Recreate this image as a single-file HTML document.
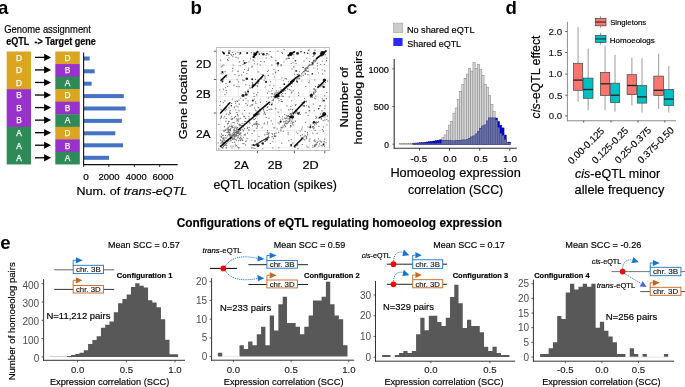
<!DOCTYPE html>
<html><head><meta charset="utf-8"><style>
html,body{margin:0;padding:0;background:#fff;overflow:hidden;width:685px;height:387px;}
svg{display:block;will-change:transform;font-family:"Liberation Sans",sans-serif;}
</style></head><body>
<svg width="685" height="387" viewBox="0 0 685 387">
<rect width="685" height="387" fill="#fff"/>
<text x="-1.9" y="13.7" font-size="18.6" font-weight="bold" fill="#000">a</text>
<text x="190.5" y="13.7" font-size="18.6" font-weight="bold" fill="#000">b</text>
<text x="346.9" y="13.7" font-size="18.6" font-weight="bold" fill="#000">c</text>
<text x="505.5" y="13.7" font-size="18.6" font-weight="bold" fill="#000">d</text>
<text x="0.3" y="248.9" font-size="18.6" font-weight="bold" fill="#000">e</text>
<text x="4.26" y="33.10" font-size="10.2" fill="#000" textLength="86.71" lengthAdjust="spacingAndGlyphs" stroke="#000" stroke-width="0.18">Genome assignment</text>
<text x="6.22" y="45.20" font-size="10" fill="#000" textLength="89.61" lengthAdjust="spacingAndGlyphs" stroke="#000" stroke-width="0.18"><tspan font-weight="bold">eQTL  -&gt; Target gene</tspan></text>
<rect x="6.70" y="51.50" width="24.30" height="38.05" fill="#DAA520"/>
<rect x="6.70" y="89.15" width="24.30" height="38.05" fill="#9932CC"/>
<rect x="6.70" y="126.80" width="24.30" height="37.65" fill="#2E8B57"/>
<rect x="55.30" y="51.50" width="24.50" height="12.95" fill="#DAA520"/>
<rect x="55.30" y="64.05" width="24.50" height="12.95" fill="#9932CC"/>
<rect x="55.30" y="76.60" width="24.50" height="12.95" fill="#2E8B57"/>
<rect x="55.30" y="89.15" width="24.50" height="12.95" fill="#DAA520"/>
<rect x="55.30" y="101.70" width="24.50" height="12.95" fill="#9932CC"/>
<rect x="55.30" y="114.25" width="24.50" height="12.95" fill="#2E8B57"/>
<rect x="55.30" y="126.80" width="24.50" height="12.95" fill="#DAA520"/>
<rect x="55.30" y="139.35" width="24.50" height="12.95" fill="#9932CC"/>
<rect x="55.30" y="151.90" width="24.50" height="12.55" fill="#2E8B57"/>
<text x="18.9" y="60.675" font-size="8.3" text-anchor="middle" fill="#fff" stroke="#fff" stroke-width="0.25">D</text>
<text x="67.6" y="60.675" font-size="8.3" text-anchor="middle" fill="#fff" stroke="#fff" stroke-width="0.25">D</text>
<line x1="35" y1="57.375" x2="45" y2="57.375" stroke="#000" stroke-width="1.3"/>
<polygon points="44.1,53.77 51.1,57.38 44.1,60.98" fill="#000"/>
<text x="18.9" y="73.22500000000001" font-size="8.3" text-anchor="middle" fill="#fff" stroke="#fff" stroke-width="0.25">D</text>
<text x="67.6" y="73.22500000000001" font-size="8.3" text-anchor="middle" fill="#fff" stroke="#fff" stroke-width="0.25">B</text>
<line x1="35" y1="69.925" x2="45" y2="69.925" stroke="#000" stroke-width="1.3"/>
<polygon points="44.1,66.33 51.1,69.92 44.1,73.52" fill="#000"/>
<text x="18.9" y="85.775" font-size="8.3" text-anchor="middle" fill="#fff" stroke="#fff" stroke-width="0.25">D</text>
<text x="67.6" y="85.775" font-size="8.3" text-anchor="middle" fill="#fff" stroke="#fff" stroke-width="0.25">A</text>
<line x1="35" y1="82.475" x2="45" y2="82.475" stroke="#000" stroke-width="1.3"/>
<polygon points="44.1,78.88 51.1,82.47 44.1,86.07" fill="#000"/>
<text x="18.9" y="98.32500000000002" font-size="8.3" text-anchor="middle" fill="#fff" stroke="#fff" stroke-width="0.25">B</text>
<text x="67.6" y="98.32500000000002" font-size="8.3" text-anchor="middle" fill="#fff" stroke="#fff" stroke-width="0.25">D</text>
<line x1="35" y1="95.025" x2="45" y2="95.025" stroke="#000" stroke-width="1.3"/>
<polygon points="44.1,91.43 51.1,95.03 44.1,98.62" fill="#000"/>
<text x="18.9" y="110.87500000000001" font-size="8.3" text-anchor="middle" fill="#fff" stroke="#fff" stroke-width="0.25">B</text>
<text x="67.6" y="110.87500000000001" font-size="8.3" text-anchor="middle" fill="#fff" stroke="#fff" stroke-width="0.25">B</text>
<line x1="35" y1="107.575" x2="45" y2="107.575" stroke="#000" stroke-width="1.3"/>
<polygon points="44.1,103.98 51.1,107.58 44.1,111.17" fill="#000"/>
<text x="18.9" y="123.42500000000001" font-size="8.3" text-anchor="middle" fill="#fff" stroke="#fff" stroke-width="0.25">B</text>
<text x="67.6" y="123.42500000000001" font-size="8.3" text-anchor="middle" fill="#fff" stroke="#fff" stroke-width="0.25">A</text>
<line x1="35" y1="120.125" x2="45" y2="120.125" stroke="#000" stroke-width="1.3"/>
<polygon points="44.1,116.53 51.1,120.12 44.1,123.72" fill="#000"/>
<text x="18.9" y="135.97500000000002" font-size="8.3" text-anchor="middle" fill="#fff" stroke="#fff" stroke-width="0.25">A</text>
<text x="67.6" y="135.97500000000002" font-size="8.3" text-anchor="middle" fill="#fff" stroke="#fff" stroke-width="0.25">D</text>
<line x1="35" y1="132.675" x2="45" y2="132.675" stroke="#000" stroke-width="1.3"/>
<polygon points="44.1,129.08 51.1,132.68 44.1,136.28" fill="#000"/>
<text x="18.9" y="148.52500000000003" font-size="8.3" text-anchor="middle" fill="#fff" stroke="#fff" stroke-width="0.25">A</text>
<text x="67.6" y="148.52500000000003" font-size="8.3" text-anchor="middle" fill="#fff" stroke="#fff" stroke-width="0.25">B</text>
<line x1="35" y1="145.22500000000002" x2="45" y2="145.22500000000002" stroke="#000" stroke-width="1.3"/>
<polygon points="44.1,141.63 51.1,145.23 44.1,148.83" fill="#000"/>
<text x="18.9" y="161.07500000000002" font-size="8.3" text-anchor="middle" fill="#fff" stroke="#fff" stroke-width="0.25">A</text>
<text x="67.6" y="161.07500000000002" font-size="8.3" text-anchor="middle" fill="#fff" stroke="#fff" stroke-width="0.25">A</text>
<line x1="35" y1="157.775" x2="45" y2="157.775" stroke="#000" stroke-width="1.3"/>
<polygon points="44.1,154.18 51.1,157.78 44.1,161.38" fill="#000"/>
<rect x="84.00" y="56.50" width="5.70" height="4.00" fill="#4472C4"/>
<rect x="84.00" y="69.30" width="10.70" height="4.00" fill="#4472C4"/>
<rect x="84.00" y="81.70" width="7.60" height="4.00" fill="#4472C4"/>
<rect x="84.00" y="94.10" width="39.80" height="4.00" fill="#4472C4"/>
<rect x="84.00" y="106.50" width="41.70" height="4.00" fill="#4472C4"/>
<rect x="84.00" y="118.90" width="37.90" height="4.00" fill="#4472C4"/>
<rect x="84.00" y="131.30" width="31.30" height="4.00" fill="#4472C4"/>
<rect x="84.00" y="143.30" width="39.00" height="4.00" fill="#4472C4"/>
<rect x="84.00" y="155.80" width="25.00" height="4.00" fill="#4472C4"/>
<line x1="83.6" y1="52.5" x2="83.6" y2="165" stroke="#111" stroke-width="1.1"/>
<line x1="83.1" y1="164.6" x2="177.7" y2="164.6" stroke="#111" stroke-width="1.1"/>
<line x1="83.7" y1="164.9" x2="83.7" y2="167" stroke="#000" stroke-width="0.8"/>
<line x1="108.9" y1="164.9" x2="108.9" y2="167" stroke="#000" stroke-width="0.8"/>
<line x1="134.3" y1="164.9" x2="134.3" y2="167" stroke="#000" stroke-width="0.8"/>
<line x1="159.7" y1="164.9" x2="159.7" y2="167" stroke="#000" stroke-width="0.8"/>
<text x="83.29" y="179.70" font-size="8.2" fill="#000" textLength="5.56" lengthAdjust="spacingAndGlyphs" stroke="#000" stroke-width="0.18">0</text>
<text x="98.56" y="179.70" font-size="8.2" fill="#000" textLength="21.08" lengthAdjust="spacingAndGlyphs" stroke="#000" stroke-width="0.18">2000</text>
<text x="125.85" y="179.70" font-size="8.2" fill="#000" textLength="20.78" lengthAdjust="spacingAndGlyphs" stroke="#000" stroke-width="0.18">4000</text>
<text x="152.56" y="179.70" font-size="8.2" fill="#000" textLength="21.08" lengthAdjust="spacingAndGlyphs" stroke="#000" stroke-width="0.18">6000</text>
<text x="76.42" y="195.20" font-size="11.7" fill="#000" textLength="110.78" lengthAdjust="spacingAndGlyphs" stroke="#000" stroke-width="0.18">Num. of <tspan font-style="italic">trans-eQTL</tspan></text>
<rect x="216.50" y="47.50" width="113.00" height="103.00" fill="#fff" stroke="#BEBEBE" stroke-width="1"/>
<line x1="220.3" y1="47.6" x2="220.3" y2="150.2" stroke="#E6E6E6" stroke-width="0.7"/>
<line x1="238.3" y1="47.6" x2="238.3" y2="150.2" stroke="#E6E6E6" stroke-width="0.7"/>
<line x1="257.4" y1="47.6" x2="257.4" y2="150.2" stroke="#E6E6E6" stroke-width="0.7"/>
<line x1="275.6" y1="47.6" x2="275.6" y2="150.2" stroke="#E6E6E6" stroke-width="0.7"/>
<line x1="294.4" y1="47.6" x2="294.4" y2="150.2" stroke="#E6E6E6" stroke-width="0.7"/>
<line x1="309.6" y1="47.6" x2="309.6" y2="150.2" stroke="#E6E6E6" stroke-width="0.7"/>
<line x1="324.9" y1="47.6" x2="324.9" y2="150.2" stroke="#E6E6E6" stroke-width="0.7"/>
<line x1="216.6" y1="51.2" x2="329.2" y2="51.2" stroke="#E6E6E6" stroke-width="0.7"/>
<line x1="216.6" y1="65.3" x2="329.2" y2="65.3" stroke="#E6E6E6" stroke-width="0.7"/>
<line x1="216.6" y1="79.5" x2="329.2" y2="79.5" stroke="#E6E6E6" stroke-width="0.7"/>
<line x1="216.6" y1="96.5" x2="329.2" y2="96.5" stroke="#E6E6E6" stroke-width="0.7"/>
<line x1="216.6" y1="113" x2="329.2" y2="113" stroke="#E6E6E6" stroke-width="0.7"/>
<line x1="216.6" y1="130.5" x2="329.2" y2="130.5" stroke="#E6E6E6" stroke-width="0.7"/>
<line x1="216.6" y1="147.8" x2="329.2" y2="147.8" stroke="#E6E6E6" stroke-width="0.7"/>
<path d="M239.8 130.0h1.1v1.1h-1.1zM230.8 136.3h1.1v1.1h-1.1zM235.4 133.9h1.1v1.1h-1.1zM234.6 135.1h1.1v1.1h-1.1zM232.4 137.9h1.1v1.1h-1.1zM232.7 134.2h1.1v1.1h-1.1zM235.2 135.3h1.1v1.1h-1.1zM234.8 132.0h1.1v1.1h-1.1zM237.4 131.4h1.1v1.1h-1.1zM232.6 134.1h1.1v1.1h-1.1zM234.3 135.6h1.1v1.1h-1.1zM235.6 131.6h1.1v1.1h-1.1zM236.1 133.2h1.1v1.1h-1.1zM233.7 134.5h1.1v1.1h-1.1zM232.1 136.7h1.1v1.1h-1.1zM231.6 134.6h1.1v1.1h-1.1zM233.0 135.5h1.1v1.1h-1.1zM233.5 134.0h1.1v1.1h-1.1zM234.2 136.5h1.1v1.1h-1.1zM236.7 131.6h1.1v1.1h-1.1zM236.2 132.8h1.1v1.1h-1.1zM239.4 132.5h1.1v1.1h-1.1zM231.3 137.1h1.1v1.1h-1.1zM236.2 129.2h1.1v1.1h-1.1zM238.2 131.1h1.1v1.1h-1.1zM275.2 96.0h1.1v1.1h-1.1zM274.8 97.2h1.1v1.1h-1.1zM269.1 102.0h1.1v1.1h-1.1zM275.4 96.9h1.1v1.1h-1.1zM269.4 101.6h1.1v1.1h-1.1zM272.8 98.7h1.1v1.1h-1.1zM272.5 99.4h1.1v1.1h-1.1zM272.4 99.5h1.1v1.1h-1.1zM274.3 96.5h1.1v1.1h-1.1zM274.0 97.4h1.1v1.1h-1.1zM303.5 71.3h1.1v1.1h-1.1zM313.0 60.1h1.1v1.1h-1.1zM315.4 59.9h1.1v1.1h-1.1zM304.4 68.5h1.1v1.1h-1.1zM304.1 70.4h1.1v1.1h-1.1zM309.3 64.3h1.1v1.1h-1.1zM309.1 64.6h1.1v1.1h-1.1zM313.3 61.4h1.1v1.1h-1.1zM314.7 61.1h1.1v1.1h-1.1zM302.9 71.0h1.1v1.1h-1.1zM307.4 66.7h1.1v1.1h-1.1zM311.4 61.9h1.1v1.1h-1.1zM308.6 64.6h1.1v1.1h-1.1zM305.0 69.4h1.1v1.1h-1.1zM316.1 57.8h1.1v1.1h-1.1zM313.4 59.6h1.1v1.1h-1.1zM304.4 70.2h1.1v1.1h-1.1zM305.4 69.3h1.1v1.1h-1.1zM305.5 68.4h1.1v1.1h-1.1zM307.7 65.9h1.1v1.1h-1.1zM304.8 70.2h1.1v1.1h-1.1zM304.6 69.6h1.1v1.1h-1.1zM301.0 73.2h1.1v1.1h-1.1zM308.7 64.8h1.1v1.1h-1.1zM304.3 69.9h1.1v1.1h-1.1zM317.6 56.2h1.1v1.1h-1.1zM314.3 60.3h1.1v1.1h-1.1zM302.1 72.2h1.1v1.1h-1.1zM312.4 61.6h1.1v1.1h-1.1zM305.9 70.3h1.1v1.1h-1.1zM312.3 64.1h1.1v1.1h-1.1zM316.4 57.8h1.1v1.1h-1.1zM311.3 64.3h1.1v1.1h-1.1zM307.8 65.5h1.1v1.1h-1.1zM314.0 59.7h1.1v1.1h-1.1zM310.2 64.2h1.1v1.1h-1.1zM301.2 73.2h1.1v1.1h-1.1zM306.9 67.8h1.1v1.1h-1.1zM309.6 64.5h1.1v1.1h-1.1zM305.4 67.5h1.1v1.1h-1.1zM316.1 58.6h1.1v1.1h-1.1zM318.0 56.3h1.1v1.1h-1.1zM306.5 66.8h1.1v1.1h-1.1zM299.2 75.1h1.1v1.1h-1.1zM313.1 60.6h1.1v1.1h-1.1zM310.5 96.3h1.1v1.1h-1.1zM310.6 94.7h1.1v1.1h-1.1zM310.0 96.6h1.1v1.1h-1.1zM313.0 92.3h1.1v1.1h-1.1zM313.6 89.0h1.1v1.1h-1.1zM311.0 93.5h1.1v1.1h-1.1zM314.6 92.0h1.1v1.1h-1.1zM313.1 92.4h1.1v1.1h-1.1zM315.1 90.2h1.1v1.1h-1.1zM305.9 101.2h1.1v1.1h-1.1zM317.5 86.5h1.1v1.1h-1.1zM313.4 92.7h1.1v1.1h-1.1zM313.5 93.6h1.1v1.1h-1.1zM311.0 94.3h1.1v1.1h-1.1zM304.9 101.0h1.1v1.1h-1.1zM312.7 93.6h1.1v1.1h-1.1zM313.8 90.4h1.1v1.1h-1.1zM305.8 100.8h1.1v1.1h-1.1zM307.1 133.7h1.1v1.1h-1.1zM312.2 126.1h1.1v1.1h-1.1zM320.7 118.6h1.1v1.1h-1.1zM312.8 126.0h1.1v1.1h-1.1zM315.8 123.5h1.1v1.1h-1.1zM307.0 134.4h1.1v1.1h-1.1zM304.9 135.4h1.1v1.1h-1.1zM304.6 134.8h1.1v1.1h-1.1zM318.1 117.6h1.1v1.1h-1.1zM304.6 131.1h1.1v1.1h-1.1zM314.1 124.3h1.1v1.1h-1.1zM315.1 122.6h1.1v1.1h-1.1zM316.9 121.9h1.1v1.1h-1.1zM303.5 136.3h1.1v1.1h-1.1zM321.0 118.1h1.1v1.1h-1.1zM314.4 122.0h1.1v1.1h-1.1zM315.8 121.3h1.1v1.1h-1.1zM315.4 122.8h1.1v1.1h-1.1zM312.3 127.0h1.1v1.1h-1.1zM317.9 121.0h1.1v1.1h-1.1zM312.6 123.1h1.1v1.1h-1.1zM306.9 132.1h1.1v1.1h-1.1zM306.0 136.1h1.1v1.1h-1.1zM318.4 117.4h1.1v1.1h-1.1zM311.8 126.5h1.1v1.1h-1.1zM309.9 125.8h1.1v1.1h-1.1zM268.1 135.5h1.1v1.1h-1.1zM268.0 133.3h1.1v1.1h-1.1zM268.4 137.0h1.1v1.1h-1.1zM267.3 133.5h1.1v1.1h-1.1zM268.3 133.1h1.1v1.1h-1.1zM266.9 130.1h1.1v1.1h-1.1zM267.7 136.7h1.1v1.1h-1.1zM267.5 133.7h1.1v1.1h-1.1zM286.0 123.5h1.1v1.1h-1.1zM287.8 121.3h1.1v1.1h-1.1zM285.2 121.5h1.1v1.1h-1.1zM274.8 136.0h1.1v1.1h-1.1zM285.4 120.6h1.1v1.1h-1.1zM280.4 130.2h1.1v1.1h-1.1zM282.4 125.3h1.1v1.1h-1.1zM284.5 123.0h1.1v1.1h-1.1zM278.1 131.8h1.1v1.1h-1.1zM274.6 135.7h1.1v1.1h-1.1zM287.5 122.2h1.1v1.1h-1.1zM285.9 117.6h1.1v1.1h-1.1zM289.5 113.6h1.1v1.1h-1.1zM275.5 135.4h1.1v1.1h-1.1zM284.3 124.8h1.1v1.1h-1.1zM283.1 121.3h1.1v1.1h-1.1zM280.6 126.8h1.1v1.1h-1.1zM280.4 128.6h1.1v1.1h-1.1zM272.9 138.1h1.1v1.1h-1.1zM273.7 135.8h1.1v1.1h-1.1zM290.9 114.3h1.1v1.1h-1.1zM289.0 118.1h1.1v1.1h-1.1zM285.0 126.1h1.1v1.1h-1.1zM281.7 127.1h1.1v1.1h-1.1zM273.8 134.3h1.1v1.1h-1.1zM280.3 130.4h1.1v1.1h-1.1zM288.9 121.0h1.1v1.1h-1.1zM275.7 132.5h1.1v1.1h-1.1zM258.4 123.9h1.1v1.1h-1.1zM257.7 123.4h1.1v1.1h-1.1zM255.6 124.2h1.1v1.1h-1.1zM254.1 123.6h1.1v1.1h-1.1zM253.2 123.8h1.1v1.1h-1.1zM256.2 123.9h1.1v1.1h-1.1zM255.0 123.2h1.1v1.1h-1.1zM256.5 122.9h1.1v1.1h-1.1zM251.8 81.9h1.1v1.1h-1.1zM247.5 89.4h1.1v1.1h-1.1zM249.1 85.2h1.1v1.1h-1.1zM252.0 83.4h1.1v1.1h-1.1zM245.2 91.9h1.1v1.1h-1.1zM249.0 87.4h1.1v1.1h-1.1zM236.9 100.8h1.1v1.1h-1.1zM244.6 91.3h1.1v1.1h-1.1zM252.0 83.3h1.1v1.1h-1.1zM254.9 78.8h1.1v1.1h-1.1zM249.9 87.4h1.1v1.1h-1.1zM225.9 106.4h1.1v1.1h-1.1zM238.4 99.5h1.1v1.1h-1.1zM234.8 101.0h1.1v1.1h-1.1zM240.0 97.7h1.1v1.1h-1.1zM238.4 99.5h1.1v1.1h-1.1zM236.2 100.4h1.1v1.1h-1.1zM231.1 103.0h1.1v1.1h-1.1zM293.0 116.3h1.1v1.1h-1.1zM265.6 138.4h1.1v1.1h-1.1zM271.4 133.0h1.1v1.1h-1.1zM272.1 133.6h1.1v1.1h-1.1zM283.5 126.5h1.1v1.1h-1.1zM267.9 135.9h1.1v1.1h-1.1zM261.5 142.9h1.1v1.1h-1.1zM267.4 137.9h1.1v1.1h-1.1zM287.3 117.5h1.1v1.1h-1.1zM276.6 128.5h1.1v1.1h-1.1zM226.4 74.3h1.1v1.1h-1.1zM239.1 61.3h1.1v1.1h-1.1zM224.0 76.2h1.1v1.1h-1.1zM246.0 62.1h1.1v1.1h-1.1zM253.5 51.9h1.1v1.1h-1.1zM290.8 53.2h1.1v1.1h-1.1zM280.6 65.3h1.1v1.1h-1.1zM289.1 54.0h1.1v1.1h-1.1zM292.7 51.2h1.1v1.1h-1.1zM287.9 57.8h1.1v1.1h-1.1zM232.1 139.0h1.1v1.1h-1.1zM223.2 142.1h1.1v1.1h-1.1zM230.1 138.8h1.1v1.1h-1.1zM226.1 142.9h1.1v1.1h-1.1zM222.9 146.2h1.1v1.1h-1.1zM221.0 147.0h1.1v1.1h-1.1zM222.4 143.3h1.1v1.1h-1.1zM221.2 145.5h1.1v1.1h-1.1zM253.7 118.9h1.1v1.1h-1.1zM255.7 115.7h1.1v1.1h-1.1zM246.1 122.9h1.1v1.1h-1.1zM243.0 126.2h1.1v1.1h-1.1zM256.8 114.6h1.1v1.1h-1.1zM252.7 118.4h1.1v1.1h-1.1zM248.6 122.0h1.1v1.1h-1.1zM242.8 124.7h1.1v1.1h-1.1zM247.6 120.0h1.1v1.1h-1.1zM242.7 125.0h1.1v1.1h-1.1zM252.3 117.3h1.1v1.1h-1.1zM238.4 128.9h1.1v1.1h-1.1zM256.9 114.2h1.1v1.1h-1.1zM254.3 115.6h1.1v1.1h-1.1zM263.2 108.4h1.1v1.1h-1.1zM253.0 114.6h1.1v1.1h-1.1zM266.9 103.3h1.1v1.1h-1.1zM258.2 113.6h1.1v1.1h-1.1zM265.3 105.7h1.1v1.1h-1.1zM262.9 109.3h1.1v1.1h-1.1zM258.4 112.4h1.1v1.1h-1.1zM257.0 113.3h1.1v1.1h-1.1zM268.9 103.8h1.1v1.1h-1.1zM257.6 112.9h1.1v1.1h-1.1zM267.2 106.2h1.1v1.1h-1.1zM259.3 109.1h1.1v1.1h-1.1zM287.0 88.3h1.1v1.1h-1.1zM283.0 88.7h1.1v1.1h-1.1zM283.5 90.0h1.1v1.1h-1.1zM276.8 97.7h1.1v1.1h-1.1zM276.9 94.7h1.1v1.1h-1.1zM280.6 91.7h1.1v1.1h-1.1zM285.0 89.7h1.1v1.1h-1.1zM283.7 89.6h1.1v1.1h-1.1zM289.6 84.5h1.1v1.1h-1.1zM288.3 83.7h1.1v1.1h-1.1zM277.2 94.7h1.1v1.1h-1.1zM280.9 94.2h1.1v1.1h-1.1zM277.8 94.6h1.1v1.1h-1.1zM288.0 85.0h1.1v1.1h-1.1zM300.6 75.6h1.1v1.1h-1.1zM297.5 76.3h1.1v1.1h-1.1zM293.1 80.3h1.1v1.1h-1.1zM295.3 77.1h1.1v1.1h-1.1zM297.2 77.8h1.1v1.1h-1.1zM292.0 83.2h1.1v1.1h-1.1zM321.0 52.7h1.1v1.1h-1.1zM321.0 55.7h1.1v1.1h-1.1zM315.3 59.2h1.1v1.1h-1.1zM321.7 55.1h1.1v1.1h-1.1zM323.6 52.0h1.1v1.1h-1.1zM321.8 51.7h1.1v1.1h-1.1zM323.0 53.9h1.1v1.1h-1.1zM221.9 110.5h1.1v1.1h-1.1zM224.6 110.1h1.1v1.1h-1.1zM224.3 107.5h1.1v1.1h-1.1zM223.4 108.8h1.1v1.1h-1.1zM222.5 109.8h1.1v1.1h-1.1zM226.2 109.2h1.1v1.1h-1.1zM224.2 107.5h1.1v1.1h-1.1zM227.7 102.8h1.1v1.1h-1.1zM222.6 78.5h1.1v1.1h-1.1zM224.1 77.1h1.1v1.1h-1.1zM222.4 79.3h1.1v1.1h-1.1zM221.9 79.3h1.1v1.1h-1.1zM223.1 53.4h1.1v1.1h-1.1zM255.4 85.1h1.1v1.1h-1.1zM260.9 78.2h1.1v1.1h-1.1zM258.4 81.0h1.1v1.1h-1.1zM257.9 82.6h1.1v1.1h-1.1zM261.6 77.1h1.1v1.1h-1.1zM254.7 83.9h1.1v1.1h-1.1zM264.6 77.6h1.1v1.1h-1.1zM257.4 80.9h1.1v1.1h-1.1zM257.5 81.1h1.1v1.1h-1.1zM302.6 105.1h1.1v1.1h-1.1zM295.2 112.6h1.1v1.1h-1.1zM292.8 113.2h1.1v1.1h-1.1zM292.6 113.5h1.1v1.1h-1.1zM294.9 110.6h1.1v1.1h-1.1zM296.6 111.6h1.1v1.1h-1.1zM295.1 109.5h1.1v1.1h-1.1zM295.2 110.4h1.1v1.1h-1.1zM296.0 110.4h1.1v1.1h-1.1zM321.5 85.6h1.1v1.1h-1.1zM321.3 85.0h1.1v1.1h-1.1zM323.2 83.4h1.1v1.1h-1.1zM321.7 83.7h1.1v1.1h-1.1zM319.7 86.2h1.1v1.1h-1.1zM325.0 82.0h1.1v1.1h-1.1zM296.4 145.2h1.1v1.1h-1.1zM294.6 146.9h1.1v1.1h-1.1zM300.9 137.3h1.1v1.1h-1.1zM296.7 144.6h1.1v1.1h-1.1zM297.2 144.6h1.1v1.1h-1.1zM303.4 139.0h1.1v1.1h-1.1zM296.4 144.1h1.1v1.1h-1.1zM261.1 140.2h1.1v1.1h-1.1zM256.6 144.3h1.1v1.1h-1.1zM267.8 135.9h1.1v1.1h-1.1zM265.0 139.6h1.1v1.1h-1.1zM259.8 141.2h1.1v1.1h-1.1zM265.4 139.9h1.1v1.1h-1.1zM257.5 145.9h1.1v1.1h-1.1zM257.0 144.9h1.1v1.1h-1.1zM264.9 140.8h1.1v1.1h-1.1zM321.8 115.5h1.1v1.1h-1.1zM322.6 116.2h1.1v1.1h-1.1zM322.2 114.1h1.1v1.1h-1.1zM320.9 115.8h1.1v1.1h-1.1zM252.6 59.4h1.1v1.1h-1.1zM258.0 51.7h1.1v1.1h-1.1zM254.6 54.7h1.1v1.1h-1.1zM253.7 56.6h1.1v1.1h-1.1zM293.2 54.2h1.1v1.1h-1.1zM288.4 56.3h1.1v1.1h-1.1zM288.3 55.1h1.1v1.1h-1.1zM290.5 52.2h1.1v1.1h-1.1zM231.4 137.6h1.1v1.1h-1.1zM231.5 135.5h1.1v1.1h-1.1zM231.3 136.7h1.1v1.1h-1.1zM238.5 129.3h1.1v1.1h-1.1zM236.2 133.4h1.1v1.1h-1.1zM233.0 131.6h1.1v1.1h-1.1zM290.0 117.1h1.1v1.1h-1.1zM293.0 121.7h1.1v1.1h-1.1zM290.4 122.5h1.1v1.1h-1.1zM284.0 117.7h1.1v1.1h-1.1zM283.9 124.2h1.1v1.1h-1.1zM288.0 121.2h1.1v1.1h-1.1zM290.7 120.5h1.1v1.1h-1.1zM292.8 121.7h1.1v1.1h-1.1zM292.0 118.3h1.1v1.1h-1.1zM291.8 111.6h1.1v1.1h-1.1zM285.5 122.8h1.1v1.1h-1.1zM291.1 113.3h1.1v1.1h-1.1zM284.1 114.0h1.1v1.1h-1.1zM287.5 120.8h1.1v1.1h-1.1zM288.9 120.5h1.1v1.1h-1.1zM284.0 117.6h1.1v1.1h-1.1zM289.6 119.4h1.1v1.1h-1.1zM291.7 118.4h1.1v1.1h-1.1zM292.1 122.1h1.1v1.1h-1.1zM290.9 114.0h1.1v1.1h-1.1zM286.4 115.1h1.1v1.1h-1.1zM294.9 120.6h1.1v1.1h-1.1zM289.2 116.0h1.1v1.1h-1.1zM286.8 122.9h1.1v1.1h-1.1zM288.3 116.0h1.1v1.1h-1.1zM286.0 120.2h1.1v1.1h-1.1zM281.9 116.2h1.1v1.1h-1.1zM291.4 120.7h1.1v1.1h-1.1zM291.2 117.0h1.1v1.1h-1.1zM292.1 123.5h1.1v1.1h-1.1zM285.8 115.2h1.1v1.1h-1.1zM287.6 118.3h1.1v1.1h-1.1zM287.0 115.9h1.1v1.1h-1.1zM280.4 120.9h1.1v1.1h-1.1zM285.0 118.1h1.1v1.1h-1.1zM316.9 142.0h1.1v1.1h-1.1zM320.7 145.0h1.1v1.1h-1.1zM313.6 140.0h1.1v1.1h-1.1zM317.5 141.2h1.1v1.1h-1.1zM320.4 141.1h1.1v1.1h-1.1zM319.1 143.3h1.1v1.1h-1.1zM325.6 142.2h1.1v1.1h-1.1zM315.7 142.4h1.1v1.1h-1.1zM321.2 141.7h1.1v1.1h-1.1zM315.4 145.0h1.1v1.1h-1.1zM319.4 140.5h1.1v1.1h-1.1zM323.8 140.9h1.1v1.1h-1.1zM316.1 143.8h1.1v1.1h-1.1zM318.4 145.4h1.1v1.1h-1.1zM314.1 144.6h1.1v1.1h-1.1zM314.5 140.8h1.1v1.1h-1.1zM321.8 145.4h1.1v1.1h-1.1zM313.5 140.2h1.1v1.1h-1.1zM314.8 144.0h1.1v1.1h-1.1zM312.4 146.7h1.1v1.1h-1.1zM312.3 145.2h1.1v1.1h-1.1zM323.3 142.7h1.1v1.1h-1.1zM323.4 141.2h1.1v1.1h-1.1zM322.8 144.0h1.1v1.1h-1.1zM323.9 145.6h1.1v1.1h-1.1zM279.6 87.2h1.1v1.1h-1.1zM278.0 96.0h1.1v1.1h-1.1zM280.8 100.8h1.1v1.1h-1.1zM273.9 94.5h1.1v1.1h-1.1zM277.2 95.2h1.1v1.1h-1.1zM282.1 92.7h1.1v1.1h-1.1zM274.5 92.6h1.1v1.1h-1.1zM281.0 92.0h1.1v1.1h-1.1zM271.9 93.3h1.1v1.1h-1.1zM281.9 101.0h1.1v1.1h-1.1zM275.8 92.5h1.1v1.1h-1.1zM280.5 98.9h1.1v1.1h-1.1zM277.9 95.2h1.1v1.1h-1.1zM280.6 89.1h1.1v1.1h-1.1zM282.8 91.0h1.1v1.1h-1.1zM271.6 99.9h1.1v1.1h-1.1zM278.2 98.1h1.1v1.1h-1.1zM272.8 96.2h1.1v1.1h-1.1zM279.0 95.8h1.1v1.1h-1.1zM278.5 94.7h1.1v1.1h-1.1zM277.8 90.5h1.1v1.1h-1.1zM284.7 93.0h1.1v1.1h-1.1zM273.7 96.1h1.1v1.1h-1.1zM277.1 92.1h1.1v1.1h-1.1zM288.7 96.5h1.1v1.1h-1.1zM223.9 126.1h1.1v1.1h-1.1zM233.3 129.2h1.1v1.1h-1.1zM240.1 133.5h1.1v1.1h-1.1zM248.6 126.8h1.1v1.1h-1.1zM234.0 138.4h1.1v1.1h-1.1zM244.1 128.1h1.1v1.1h-1.1zM232.5 139.0h1.1v1.1h-1.1zM240.4 139.1h1.1v1.1h-1.1zM243.6 134.2h1.1v1.1h-1.1zM237.5 131.5h1.1v1.1h-1.1zM236.3 120.5h1.1v1.1h-1.1zM239.8 136.8h1.1v1.1h-1.1zM241.0 125.1h1.1v1.1h-1.1zM234.8 139.1h1.1v1.1h-1.1zM243.7 123.2h1.1v1.1h-1.1zM226.3 131.9h1.1v1.1h-1.1zM226.2 144.9h1.1v1.1h-1.1zM235.3 135.6h1.1v1.1h-1.1zM223.5 131.1h1.1v1.1h-1.1zM237.4 118.4h1.1v1.1h-1.1zM248.5 130.2h1.1v1.1h-1.1zM239.1 127.8h1.1v1.1h-1.1zM237.6 135.3h1.1v1.1h-1.1zM238.7 133.3h1.1v1.1h-1.1zM225.2 129.8h1.1v1.1h-1.1zM227.5 132.2h1.1v1.1h-1.1zM231.0 116.2h1.1v1.1h-1.1zM246.8 127.9h1.1v1.1h-1.1zM233.6 130.1h1.1v1.1h-1.1zM234.7 135.0h1.1v1.1h-1.1zM246.9 126.7h1.1v1.1h-1.1zM240.4 135.2h1.1v1.1h-1.1zM227.3 135.3h1.1v1.1h-1.1zM242.2 128.8h1.1v1.1h-1.1zM233.7 122.2h1.1v1.1h-1.1zM242.8 124.7h1.1v1.1h-1.1zM237.0 119.5h1.1v1.1h-1.1zM233.8 116.8h1.1v1.1h-1.1zM230.1 135.5h1.1v1.1h-1.1zM227.9 121.3h1.1v1.1h-1.1zM230.5 125.8h1.1v1.1h-1.1zM227.7 130.7h1.1v1.1h-1.1zM231.5 134.8h1.1v1.1h-1.1zM238.4 131.2h1.1v1.1h-1.1zM237.7 132.8h1.1v1.1h-1.1zM223.2 145.1h1.1v1.1h-1.1zM223.5 140.3h1.1v1.1h-1.1zM229.9 112.9h1.1v1.1h-1.1zM225.8 113.6h1.1v1.1h-1.1zM237.0 126.9h1.1v1.1h-1.1zM253.8 130.3h1.1v1.1h-1.1zM230.5 139.8h1.1v1.1h-1.1zM255.7 123.2h1.1v1.1h-1.1zM229.8 128.9h1.1v1.1h-1.1zM226.9 123.3h1.1v1.1h-1.1zM246.5 138.0h1.1v1.1h-1.1zM242.9 130.2h1.1v1.1h-1.1zM244.1 116.1h1.1v1.1h-1.1zM245.1 117.8h1.1v1.1h-1.1zM228.9 132.3h1.1v1.1h-1.1zM227.6 131.3h1.1v1.1h-1.1zM237.4 137.5h1.1v1.1h-1.1zM234.7 130.2h1.1v1.1h-1.1zM233.7 128.7h1.1v1.1h-1.1zM233.7 129.0h1.1v1.1h-1.1zM239.1 138.1h1.1v1.1h-1.1zM237.3 106.2h1.1v1.1h-1.1zM237.3 115.3h1.1v1.1h-1.1zM228.2 133.8h1.1v1.1h-1.1zM218.3 123.9h1.1v1.1h-1.1zM236.7 128.9h1.1v1.1h-1.1zM231.9 118.1h1.1v1.1h-1.1zM248.5 118.3h1.1v1.1h-1.1zM230.2 135.0h1.1v1.1h-1.1zM236.4 135.2h1.1v1.1h-1.1zM244.3 120.9h1.1v1.1h-1.1zM239.0 123.8h1.1v1.1h-1.1zM236.1 128.6h1.1v1.1h-1.1zM229.9 130.1h1.1v1.1h-1.1zM253.4 130.4h1.1v1.1h-1.1zM225.1 108.0h1.1v1.1h-1.1zM223.6 139.6h1.1v1.1h-1.1zM227.3 126.7h1.1v1.1h-1.1zM232.2 125.5h1.1v1.1h-1.1zM232.6 126.9h1.1v1.1h-1.1zM247.0 132.6h1.1v1.1h-1.1zM251.6 133.0h1.1v1.1h-1.1zM238.3 147.4h1.1v1.1h-1.1zM232.1 141.9h1.1v1.1h-1.1zM230.3 140.5h1.1v1.1h-1.1zM238.1 135.2h1.1v1.1h-1.1zM241.6 125.4h1.1v1.1h-1.1zM251.8 125.1h1.1v1.1h-1.1zM242.1 138.7h1.1v1.1h-1.1zM237.5 137.1h1.1v1.1h-1.1zM234.3 135.4h1.1v1.1h-1.1zM231.8 127.1h1.1v1.1h-1.1zM234.1 133.8h1.1v1.1h-1.1zM234.7 143.7h1.1v1.1h-1.1zM237.3 131.2h1.1v1.1h-1.1zM236.0 139.6h1.1v1.1h-1.1zM233.4 137.5h1.1v1.1h-1.1zM235.9 118.2h1.1v1.1h-1.1zM236.8 146.4h1.1v1.1h-1.1zM230.2 138.0h1.1v1.1h-1.1zM228.5 140.4h1.1v1.1h-1.1zM228.8 125.6h1.1v1.1h-1.1zM237.3 132.8h1.1v1.1h-1.1zM235.1 145.5h1.1v1.1h-1.1zM242.4 126.3h1.1v1.1h-1.1zM240.2 132.3h1.1v1.1h-1.1zM239.4 128.3h1.1v1.1h-1.1zM233.7 131.6h1.1v1.1h-1.1zM229.6 130.2h1.1v1.1h-1.1zM255.9 127.7h1.1v1.1h-1.1zM222.7 129.7h1.1v1.1h-1.1zM232.4 122.1h1.1v1.1h-1.1zM236.2 127.9h1.1v1.1h-1.1zM242.4 143.0h1.1v1.1h-1.1zM225.4 128.7h1.1v1.1h-1.1zM225.4 120.6h1.1v1.1h-1.1zM236.0 135.0h1.1v1.1h-1.1zM232.6 145.6h1.1v1.1h-1.1zM224.1 129.7h1.1v1.1h-1.1zM236.9 122.7h1.1v1.1h-1.1zM235.0 116.0h1.1v1.1h-1.1zM227.5 129.4h1.1v1.1h-1.1zM228.4 131.6h1.1v1.1h-1.1zM238.2 140.1h1.1v1.1h-1.1zM239.3 125.2h1.1v1.1h-1.1zM230.1 133.8h1.1v1.1h-1.1zM231.4 147.5h1.1v1.1h-1.1zM235.6 126.6h1.1v1.1h-1.1zM229.5 129.2h1.1v1.1h-1.1zM233.8 132.9h1.1v1.1h-1.1zM230.7 125.5h1.1v1.1h-1.1zM234.4 126.4h1.1v1.1h-1.1zM228.5 129.0h1.1v1.1h-1.1zM234.4 127.8h1.1v1.1h-1.1zM238.0 120.5h1.1v1.1h-1.1zM236.0 134.8h1.1v1.1h-1.1zM236.4 128.8h1.1v1.1h-1.1zM230.9 126.5h1.1v1.1h-1.1zM225.9 147.4h1.1v1.1h-1.1zM238.9 133.9h1.1v1.1h-1.1zM242.7 130.5h1.1v1.1h-1.1zM237.9 131.1h1.1v1.1h-1.1zM229.2 112.4h1.1v1.1h-1.1zM240.7 139.4h1.1v1.1h-1.1zM240.3 128.9h1.1v1.1h-1.1zM240.7 137.8h1.1v1.1h-1.1zM244.7 133.4h1.1v1.1h-1.1zM243.3 115.8h1.1v1.1h-1.1zM242.7 136.7h1.1v1.1h-1.1zM228.3 129.8h1.1v1.1h-1.1zM239.9 140.0h1.1v1.1h-1.1zM242.1 139.9h1.1v1.1h-1.1zM236.3 130.2h1.1v1.1h-1.1zM239.9 124.3h1.1v1.1h-1.1zM228.9 135.2h1.1v1.1h-1.1zM234.7 130.2h1.1v1.1h-1.1zM244.1 109.9h1.1v1.1h-1.1zM234.1 136.2h1.1v1.1h-1.1zM234.2 141.6h1.1v1.1h-1.1zM227.2 128.3h1.1v1.1h-1.1zM231.8 126.0h1.1v1.1h-1.1zM227.4 128.8h1.1v1.1h-1.1zM221.0 135.9h1.1v1.1h-1.1zM225.6 139.8h1.1v1.1h-1.1zM220.0 139.6h1.1v1.1h-1.1zM225.5 143.3h1.1v1.1h-1.1zM224.1 145.0h1.1v1.1h-1.1zM223.3 137.0h1.1v1.1h-1.1zM222.0 140.6h1.1v1.1h-1.1zM226.2 137.5h1.1v1.1h-1.1zM223.0 142.1h1.1v1.1h-1.1zM229.1 133.8h1.1v1.1h-1.1zM227.1 141.2h1.1v1.1h-1.1zM222.2 141.7h1.1v1.1h-1.1zM221.1 133.6h1.1v1.1h-1.1zM218.3 148.3h1.1v1.1h-1.1zM222.3 138.1h1.1v1.1h-1.1zM223.4 138.0h1.1v1.1h-1.1zM220.6 142.7h1.1v1.1h-1.1zM224.6 141.7h1.1v1.1h-1.1zM219.7 145.4h1.1v1.1h-1.1zM225.0 144.3h1.1v1.1h-1.1zM222.5 138.4h1.1v1.1h-1.1zM219.8 145.7h1.1v1.1h-1.1zM225.0 135.0h1.1v1.1h-1.1zM223.8 139.7h1.1v1.1h-1.1zM224.2 143.7h1.1v1.1h-1.1zM227.1 141.5h1.1v1.1h-1.1zM220.6 136.1h1.1v1.1h-1.1zM221.2 137.0h1.1v1.1h-1.1zM225.2 137.5h1.1v1.1h-1.1zM223.3 142.8h1.1v1.1h-1.1zM222.3 147.7h1.1v1.1h-1.1zM217.6 142.4h1.1v1.1h-1.1zM221.0 140.4h1.1v1.1h-1.1zM223.4 139.3h1.1v1.1h-1.1zM221.2 140.5h1.1v1.1h-1.1zM220.9 140.4h1.1v1.1h-1.1zM221.8 135.0h1.1v1.1h-1.1zM227.7 140.0h1.1v1.1h-1.1zM221.5 142.0h1.1v1.1h-1.1zM239.3 129.5h1.1v1.1h-1.1zM238.5 74.8h1.1v1.1h-1.1zM254.7 139.9h1.1v1.1h-1.1zM271.3 64.5h1.1v1.1h-1.1zM242.2 79.6h1.1v1.1h-1.1zM308.6 49.4h1.1v1.1h-1.1zM245.4 120.9h1.1v1.1h-1.1zM228.4 107.3h1.1v1.1h-1.1zM310.5 94.8h1.1v1.1h-1.1zM294.9 104.8h1.1v1.1h-1.1zM315.1 145.4h1.1v1.1h-1.1zM283.5 121.0h1.1v1.1h-1.1zM295.8 131.4h1.1v1.1h-1.1zM263.3 113.5h1.1v1.1h-1.1zM264.2 134.3h1.1v1.1h-1.1zM308.3 82.1h1.1v1.1h-1.1zM278.2 147.2h1.1v1.1h-1.1zM299.0 71.2h1.1v1.1h-1.1zM271.4 56.9h1.1v1.1h-1.1zM248.3 129.0h1.1v1.1h-1.1zM238.5 110.2h1.1v1.1h-1.1zM301.8 143.9h1.1v1.1h-1.1zM265.5 54.7h1.1v1.1h-1.1zM264.9 113.8h1.1v1.1h-1.1zM301.9 134.2h1.1v1.1h-1.1zM226.1 92.2h1.1v1.1h-1.1zM298.6 76.1h1.1v1.1h-1.1zM307.4 146.7h1.1v1.1h-1.1zM254.9 109.5h1.1v1.1h-1.1zM224.1 115.7h1.1v1.1h-1.1zM322.8 126.3h1.1v1.1h-1.1zM254.5 141.2h1.1v1.1h-1.1zM219.3 105.0h1.1v1.1h-1.1zM225.6 89.9h1.1v1.1h-1.1zM248.4 61.4h1.1v1.1h-1.1zM314.6 129.8h1.1v1.1h-1.1zM277.3 65.3h1.1v1.1h-1.1zM274.6 71.4h1.1v1.1h-1.1zM278.8 115.9h1.1v1.1h-1.1zM322.0 73.5h1.1v1.1h-1.1zM248.1 67.5h1.1v1.1h-1.1zM321.8 128.9h1.1v1.1h-1.1zM257.3 91.9h1.1v1.1h-1.1zM308.5 107.0h1.1v1.1h-1.1zM283.0 89.7h1.1v1.1h-1.1zM283.7 49.1h1.1v1.1h-1.1zM238.0 132.5h1.1v1.1h-1.1zM319.6 104.9h1.1v1.1h-1.1zM290.8 92.3h1.1v1.1h-1.1zM258.2 107.1h1.1v1.1h-1.1zM304.2 139.4h1.1v1.1h-1.1zM246.7 94.3h1.1v1.1h-1.1zM267.0 123.4h1.1v1.1h-1.1zM314.0 145.8h1.1v1.1h-1.1zM292.0 109.1h1.1v1.1h-1.1zM231.2 55.0h1.1v1.1h-1.1zM221.3 110.7h1.1v1.1h-1.1zM281.9 52.8h1.1v1.1h-1.1zM315.3 117.7h1.1v1.1h-1.1zM294.1 73.7h1.1v1.1h-1.1zM252.1 104.1h1.1v1.1h-1.1zM255.4 102.9h1.1v1.1h-1.1zM290.2 108.8h1.1v1.1h-1.1zM254.4 147.9h1.1v1.1h-1.1zM246.8 104.6h1.1v1.1h-1.1zM260.7 52.6h1.1v1.1h-1.1zM257.4 114.1h1.1v1.1h-1.1zM313.8 88.5h1.1v1.1h-1.1zM236.3 112.0h1.1v1.1h-1.1zM224.3 100.3h1.1v1.1h-1.1zM231.7 118.5h1.1v1.1h-1.1zM301.8 126.4h1.1v1.1h-1.1zM256.3 127.5h1.1v1.1h-1.1zM275.1 72.2h1.1v1.1h-1.1zM296.1 70.6h1.1v1.1h-1.1zM322.6 130.4h1.1v1.1h-1.1zM220.2 117.6h1.1v1.1h-1.1zM268.3 54.2h1.1v1.1h-1.1zM270.5 108.3h1.1v1.1h-1.1zM221.8 64.7h1.1v1.1h-1.1zM302.6 74.8h1.1v1.1h-1.1zM313.3 88.3h1.1v1.1h-1.1zM290.9 86.0h1.1v1.1h-1.1zM220.9 115.8h1.1v1.1h-1.1zM250.7 104.5h1.1v1.1h-1.1zM295.4 103.9h1.1v1.1h-1.1zM239.6 65.2h1.1v1.1h-1.1zM309.3 138.4h1.1v1.1h-1.1zM255.7 110.5h1.1v1.1h-1.1zM323.9 64.0h1.1v1.1h-1.1zM274.1 127.2h1.1v1.1h-1.1zM290.2 106.0h1.1v1.1h-1.1zM305.2 86.0h1.1v1.1h-1.1zM243.4 80.1h1.1v1.1h-1.1zM253.4 93.0h1.1v1.1h-1.1zM232.1 132.7h1.1v1.1h-1.1zM289.3 119.0h1.1v1.1h-1.1zM290.7 125.5h1.1v1.1h-1.1zM267.7 75.0h1.1v1.1h-1.1zM242.9 60.3h1.1v1.1h-1.1zM324.3 116.5h1.1v1.1h-1.1zM288.2 109.3h1.1v1.1h-1.1zM266.1 100.9h1.1v1.1h-1.1zM223.4 117.5h1.1v1.1h-1.1zM265.6 57.6h1.1v1.1h-1.1zM321.7 100.3h1.1v1.1h-1.1zM220.7 73.2h1.1v1.1h-1.1zM253.9 98.4h1.1v1.1h-1.1zM219.1 89.5h1.1v1.1h-1.1zM291.0 115.0h1.1v1.1h-1.1zM256.1 120.9h1.1v1.1h-1.1zM234.9 53.3h1.1v1.1h-1.1zM221.3 66.1h1.1v1.1h-1.1zM308.7 80.4h1.1v1.1h-1.1zM317.8 121.7h1.1v1.1h-1.1zM306.3 145.4h1.1v1.1h-1.1zM289.8 116.1h1.1v1.1h-1.1zM307.5 115.0h1.1v1.1h-1.1zM265.6 117.0h1.1v1.1h-1.1zM228.1 127.3h1.1v1.1h-1.1zM225.9 143.0h1.1v1.1h-1.1zM292.4 142.6h1.1v1.1h-1.1zM288.7 89.0h1.1v1.1h-1.1zM273.8 93.8h1.1v1.1h-1.1zM229.2 132.0h1.1v1.1h-1.1zM237.5 70.8h1.1v1.1h-1.1zM254.8 118.0h1.1v1.1h-1.1zM263.7 79.7h1.1v1.1h-1.1zM282.7 80.2h1.1v1.1h-1.1zM238.8 128.3h1.1v1.1h-1.1zM268.4 117.6h1.1v1.1h-1.1zM222.1 146.8h1.1v1.1h-1.1zM238.8 103.6h1.1v1.1h-1.1zM238.0 81.4h1.1v1.1h-1.1zM303.9 100.6h1.1v1.1h-1.1zM326.1 60.4h1.1v1.1h-1.1zM314.3 139.3h1.1v1.1h-1.1zM254.3 140.3h1.1v1.1h-1.1zM249.0 119.3h1.1v1.1h-1.1zM255.0 101.3h1.1v1.1h-1.1zM287.6 133.7h1.1v1.1h-1.1zM254.3 57.1h1.1v1.1h-1.1zM249.5 122.7h1.1v1.1h-1.1zM256.0 94.3h1.1v1.1h-1.1zM290.3 89.6h1.1v1.1h-1.1zM315.2 89.2h1.1v1.1h-1.1zM271.7 135.9h1.1v1.1h-1.1zM224.9 87.2h1.1v1.1h-1.1zM292.2 114.7h1.1v1.1h-1.1zM267.0 92.6h1.1v1.1h-1.1zM318.0 138.4h1.1v1.1h-1.1zM247.5 92.5h1.1v1.1h-1.1zM220.0 59.7h1.1v1.1h-1.1zM257.0 85.6h1.1v1.1h-1.1zM295.5 63.0h1.1v1.1h-1.1zM268.3 132.8h1.1v1.1h-1.1zM232.1 70.5h1.1v1.1h-1.1zM257.6 106.7h1.1v1.1h-1.1zM321.6 69.5h1.1v1.1h-1.1zM268.6 109.0h1.1v1.1h-1.1zM308.6 140.5h1.1v1.1h-1.1zM317.1 65.5h1.1v1.1h-1.1zM255.4 53.6h1.1v1.1h-1.1zM222.7 88.6h1.1v1.1h-1.1zM266.6 110.0h1.1v1.1h-1.1zM321.8 60.7h1.1v1.1h-1.1zM324.3 119.4h1.1v1.1h-1.1zM233.7 117.3h1.1v1.1h-1.1zM232.2 56.2h1.1v1.1h-1.1zM290.7 62.9h1.1v1.1h-1.1zM291.4 91.4h1.1v1.1h-1.1zM291.6 80.4h1.1v1.1h-1.1zM285.7 58.6h1.1v1.1h-1.1zM312.9 128.2h1.1v1.1h-1.1zM258.6 113.5h1.1v1.1h-1.1zM229.2 111.4h1.1v1.1h-1.1zM245.0 144.6h1.1v1.1h-1.1zM232.0 51.9h1.1v1.1h-1.1zM316.1 117.1h1.1v1.1h-1.1zM286.6 57.7h1.1v1.1h-1.1zM267.1 121.6h1.1v1.1h-1.1zM226.8 128.2h1.1v1.1h-1.1zM283.5 61.4h1.1v1.1h-1.1zM275.8 90.5h1.1v1.1h-1.1zM305.9 105.2h1.1v1.1h-1.1zM310.1 124.6h1.1v1.1h-1.1zM273.4 68.8h1.1v1.1h-1.1zM327.0 80.6h1.1v1.1h-1.1zM287.6 132.2h1.1v1.1h-1.1zM239.3 54.0h1.1v1.1h-1.1zM305.0 121.8h1.1v1.1h-1.1zM236.6 79.2h1.1v1.1h-1.1zM286.5 105.3h1.1v1.1h-1.1zM311.7 96.9h1.1v1.1h-1.1zM239.6 125.1h1.1v1.1h-1.1zM264.3 75.6h1.1v1.1h-1.1zM234.4 73.9h1.1v1.1h-1.1zM232.6 64.4h1.1v1.1h-1.1zM275.4 60.1h1.1v1.1h-1.1zM238.5 118.5h1.1v1.1h-1.1zM238.6 124.1h1.1v1.1h-1.1zM221.2 79.6h1.1v1.1h-1.1zM235.1 102.7h1.1v1.1h-1.1zM272.0 123.5h1.1v1.1h-1.1zM266.4 133.7h1.1v1.1h-1.1zM225.4 108.4h1.1v1.1h-1.1zM225.4 82.9h1.1v1.1h-1.1zM317.9 72.5h1.1v1.1h-1.1zM225.6 146.7h1.1v1.1h-1.1zM220.4 109.0h1.1v1.1h-1.1zM235.2 109.5h1.1v1.1h-1.1zM308.9 61.0h1.1v1.1h-1.1zM319.2 116.4h1.1v1.1h-1.1zM232.2 67.8h1.1v1.1h-1.1zM261.6 127.2h1.1v1.1h-1.1zM313.3 67.4h1.1v1.1h-1.1zM313.8 110.2h1.1v1.1h-1.1zM222.8 102.2h1.1v1.1h-1.1zM249.7 105.7h1.1v1.1h-1.1zM303.5 60.6h1.1v1.1h-1.1zM227.5 54.8h1.1v1.1h-1.1zM277.6 122.3h1.1v1.1h-1.1zM248.4 120.9h1.1v1.1h-1.1zM313.8 97.4h1.1v1.1h-1.1zM229.5 50.3h1.1v1.1h-1.1zM230.6 123.4h1.1v1.1h-1.1zM307.9 49.8h1.1v1.1h-1.1zM288.3 140.1h1.1v1.1h-1.1zM251.4 144.5h1.1v1.1h-1.1zM304.6 68.0h1.1v1.1h-1.1zM239.4 132.6h1.1v1.1h-1.1zM250.8 52.1h1.1v1.1h-1.1zM220.8 116.6h1.1v1.1h-1.1zM293.2 66.3h1.1v1.1h-1.1zM318.0 83.9h1.1v1.1h-1.1zM246.2 72.9h1.1v1.1h-1.1zM290.0 124.9h1.1v1.1h-1.1zM312.5 56.0h1.1v1.1h-1.1zM287.9 81.2h1.1v1.1h-1.1zM228.3 114.1h1.1v1.1h-1.1zM237.6 57.5h1.1v1.1h-1.1zM324.9 54.2h1.1v1.1h-1.1zM271.9 87.9h1.1v1.1h-1.1zM238.1 147.1h1.1v1.1h-1.1zM226.1 55.0h1.1v1.1h-1.1zM254.0 107.5h1.1v1.1h-1.1zM280.1 119.5h1.1v1.1h-1.1zM281.7 95.6h1.1v1.1h-1.1zM326.0 59.9h1.1v1.1h-1.1zM270.0 81.2h1.1v1.1h-1.1zM325.7 98.2h1.1v1.1h-1.1zM273.5 127.3h1.1v1.1h-1.1zM326.7 115.6h1.1v1.1h-1.1zM223.2 64.4h1.1v1.1h-1.1zM233.0 54.1h1.1v1.1h-1.1zM222.9 143.7h1.1v1.1h-1.1zM263.6 123.4h1.1v1.1h-1.1zM247.5 69.9h1.1v1.1h-1.1zM326.3 57.6h1.1v1.1h-1.1zM313.4 55.0h1.1v1.1h-1.1zM271.1 93.1h1.1v1.1h-1.1zM280.6 109.5h1.1v1.1h-1.1zM232.8 135.4h1.1v1.1h-1.1zM241.1 74.3h1.1v1.1h-1.1zM224.6 71.1h1.1v1.1h-1.1zM282.8 96.0h1.1v1.1h-1.1zM323.0 130.7h1.1v1.1h-1.1zM257.7 79.8h1.1v1.1h-1.1zM273.9 76.4h1.1v1.1h-1.1zM258.1 113.9h1.1v1.1h-1.1zM243.5 143.2h1.1v1.1h-1.1zM315.3 115.8h1.1v1.1h-1.1zM297.5 148.1h1.1v1.1h-1.1zM271.2 90.5h1.1v1.1h-1.1zM289.8 126.3h1.1v1.1h-1.1zM267.0 70.9h1.1v1.1h-1.1zM327.6 120.3h1.1v1.1h-1.1zM292.7 57.7h1.1v1.1h-1.1zM263.6 110.7h1.1v1.1h-1.1zM314.1 79.4h1.1v1.1h-1.1zM228.6 120.8h1.1v1.1h-1.1zM312.7 103.6h1.1v1.1h-1.1zM296.7 81.8h1.1v1.1h-1.1zM253.6 60.7h1.1v1.1h-1.1zM230.2 127.9h1.1v1.1h-1.1zM308.1 105.8h1.1v1.1h-1.1zM278.5 100.3h1.1v1.1h-1.1zM306.1 57.5h1.1v1.1h-1.1zM242.6 64.0h1.1v1.1h-1.1zM326.0 98.1h1.1v1.1h-1.1zM296.0 79.5h1.1v1.1h-1.1zM307.4 126.5h1.1v1.1h-1.1zM262.1 148.2h1.1v1.1h-1.1zM326.4 124.5h1.1v1.1h-1.1zM256.2 143.2h1.1v1.1h-1.1zM324.4 105.4h1.1v1.1h-1.1zM258.3 111.3h1.1v1.1h-1.1zM253.6 60.6h1.1v1.1h-1.1zM252.1 87.3h1.1v1.1h-1.1zM271.6 102.6h1.1v1.1h-1.1zM320.0 113.4h1.1v1.1h-1.1zM268.2 97.3h1.1v1.1h-1.1zM305.5 112.1h1.1v1.1h-1.1zM264.6 86.5h1.1v1.1h-1.1zM299.7 113.9h1.1v1.1h-1.1zM256.8 63.5h1.1v1.1h-1.1zM237.3 51.9h1.1v1.1h-1.1zM297.2 132.7h1.1v1.1h-1.1zM281.2 52.0h1.1v1.1h-1.1zM257.5 71.3h1.1v1.1h-1.1zM229.6 109.9h1.1v1.1h-1.1zM312.2 132.6h1.1v1.1h-1.1zM307.4 74.1h1.1v1.1h-1.1zM299.0 78.1h1.1v1.1h-1.1zM256.8 125.6h1.1v1.1h-1.1zM221.1 110.5h1.1v1.1h-1.1zM253.6 96.0h1.1v1.1h-1.1zM243.9 69.0h1.1v1.1h-1.1zM324.1 95.2h1.1v1.1h-1.1zM242.1 113.5h1.1v1.1h-1.1zM315.1 98.2h1.1v1.1h-1.1zM282.8 130.7h1.1v1.1h-1.1zM315.3 95.4h1.1v1.1h-1.1zM280.6 64.1h1.1v1.1h-1.1zM235.9 144.9h1.1v1.1h-1.1zM245.4 102.8h1.1v1.1h-1.1zM242.8 59.9h1.1v1.1h-1.1zM248.0 91.2h1.1v1.1h-1.1zM245.7 140.5h1.1v1.1h-1.1zM251.2 139.7h1.1v1.1h-1.1zM290.7 139.0h1.1v1.1h-1.1zM269.5 51.0h1.1v1.1h-1.1zM235.4 56.8h1.1v1.1h-1.1zM233.0 54.2h1.1v1.1h-1.1zM245.5 98.0h1.1v1.1h-1.1zM291.5 68.4h1.1v1.1h-1.1zM263.8 122.4h1.1v1.1h-1.1zM230.5 118.5h1.1v1.1h-1.1zM228.3 50.3h1.1v1.1h-1.1zM303.5 102.3h1.1v1.1h-1.1zM284.6 78.0h1.1v1.1h-1.1zM235.5 105.5h1.1v1.1h-1.1zM252.5 147.3h1.1v1.1h-1.1zM305.7 138.1h1.1v1.1h-1.1zM238.5 86.1h1.1v1.1h-1.1zM260.3 61.0h1.1v1.1h-1.1zM271.3 109.0h1.1v1.1h-1.1zM251.3 66.6h1.1v1.1h-1.1zM222.0 72.0h1.1v1.1h-1.1zM272.2 147.4h1.1v1.1h-1.1zM296.7 73.9h1.1v1.1h-1.1zM248.0 69.2h1.1v1.1h-1.1zM314.5 49.6h1.1v1.1h-1.1zM318.3 125.8h1.1v1.1h-1.1zM251.5 104.6h1.1v1.1h-1.1zM231.2 119.0h1.1v1.1h-1.1zM230.4 145.4h1.1v1.1h-1.1zM264.0 112.1h1.1v1.1h-1.1zM324.1 138.6h1.1v1.1h-1.1zM308.6 110.3h1.1v1.1h-1.1zM259.8 101.8h1.1v1.1h-1.1zM301.3 80.5h1.1v1.1h-1.1zM321.5 110.3h1.1v1.1h-1.1zM320.1 63.9h1.1v1.1h-1.1zM273.0 99.7h1.1v1.1h-1.1zM251.4 104.6h1.1v1.1h-1.1zM273.3 85.2h1.1v1.1h-1.1zM247.4 100.4h1.1v1.1h-1.1zM261.6 73.9h1.1v1.1h-1.1zM224.4 94.1h1.1v1.1h-1.1zM292.6 62.2h1.1v1.1h-1.1zM316.8 62.7h1.1v1.1h-1.1zM230.5 53.8h1.1v1.1h-1.1zM307.4 67.7h1.1v1.1h-1.1zM225.7 117.9h1.1v1.1h-1.1zM245.2 84.1h1.1v1.1h-1.1zM281.4 77.4h1.1v1.1h-1.1zM315.3 90.9h1.1v1.1h-1.1zM287.9 115.0h1.1v1.1h-1.1zM278.8 123.4h1.1v1.1h-1.1zM251.6 65.8h1.1v1.1h-1.1zM268.5 131.7h1.1v1.1h-1.1zM270.9 96.2h1.1v1.1h-1.1zM316.6 132.8h1.1v1.1h-1.1zM322.6 120.1h1.1v1.1h-1.1zM292.8 90.2h1.1v1.1h-1.1zM244.6 134.6h1.1v1.1h-1.1zM290.6 145.8h1.1v1.1h-1.1zM245.1 140.9h1.1v1.1h-1.1zM241.6 123.0h1.1v1.1h-1.1zM266.6 131.9h1.1v1.1h-1.1zM285.9 78.3h1.1v1.1h-1.1zM306.8 68.0h1.1v1.1h-1.1zM298.9 111.8h1.1v1.1h-1.1zM300.1 135.1h1.1v1.1h-1.1zM234.1 136.0h1.1v1.1h-1.1zM301.2 128.6h1.1v1.1h-1.1zM324.2 107.9h1.1v1.1h-1.1zM304.0 98.0h1.1v1.1h-1.1zM321.9 98.4h1.1v1.1h-1.1zM277.3 50.7h1.1v1.1h-1.1zM263.7 61.1h1.1v1.1h-1.1zM219.9 101.0h1.1v1.1h-1.1zM226.9 59.1h1.1v1.1h-1.1zM324.3 70.3h1.1v1.1h-1.1zM255.7 121.6h1.1v1.1h-1.1zM222.9 134.7h1.1v1.1h-1.1zM270.7 56.1h1.1v1.1h-1.1zM229.5 80.6h1.1v1.1h-1.1zM291.1 100.2h1.1v1.1h-1.1zM252.5 55.9h1.1v1.1h-1.1zM297.6 73.8h1.1v1.1h-1.1zM268.4 90.7h1.1v1.1h-1.1zM281.2 142.6h1.1v1.1h-1.1zM306.1 137.3h1.1v1.1h-1.1zM248.7 112.7h1.1v1.1h-1.1zM292.6 124.4h1.1v1.1h-1.1zM264.4 140.8h1.1v1.1h-1.1zM271.5 136.5h1.1v1.1h-1.1zM270.6 120.3h1.1v1.1h-1.1zM243.1 71.8h1.1v1.1h-1.1zM277.7 111.6h1.1v1.1h-1.1zM274.1 133.0h1.1v1.1h-1.1zM312.8 91.8h1.1v1.1h-1.1zM227.0 85.9h1.1v1.1h-1.1zM236.4 131.1h1.1v1.1h-1.1zM248.3 116.0h1.1v1.1h-1.1zM298.1 94.9h1.1v1.1h-1.1zM315.0 86.0h1.1v1.1h-1.1zM269.8 143.0h1.1v1.1h-1.1zM240.0 117.7h1.1v1.1h-1.1zM222.5 73.1h1.1v1.1h-1.1zM272.3 141.2h1.1v1.1h-1.1zM313.9 127.4h1.1v1.1h-1.1zM233.9 106.6h1.1v1.1h-1.1zM249.8 58.3h1.1v1.1h-1.1zM299.6 130.4h1.1v1.1h-1.1zM266.8 106.9h1.1v1.1h-1.1zM256.8 82.7h1.1v1.1h-1.1zM227.7 123.0h1.1v1.1h-1.1zM297.7 78.2h1.1v1.1h-1.1zM251.0 147.4h1.1v1.1h-1.1zM242.7 99.8h1.1v1.1h-1.1zM226.9 141.0h1.1v1.1h-1.1zM301.6 101.9h1.1v1.1h-1.1zM259.8 64.5h1.1v1.1h-1.1zM236.9 113.9h1.1v1.1h-1.1zM269.4 84.7h1.1v1.1h-1.1zM277.8 70.1h1.1v1.1h-1.1zM309.2 109.9h1.1v1.1h-1.1zM233.3 84.6h1.1v1.1h-1.1zM231.8 98.5h1.1v1.1h-1.1zM267.9 69.7h1.1v1.1h-1.1zM326.2 119.0h1.1v1.1h-1.1zM259.9 110.4h1.1v1.1h-1.1zM288.9 57.9h1.1v1.1h-1.1zM275.2 108.1h1.1v1.1h-1.1zM251.6 86.8h1.1v1.1h-1.1zM289.9 113.0h1.1v1.1h-1.1zM316.9 68.4h1.1v1.1h-1.1zM258.5 135.9h1.1v1.1h-1.1zM228.4 57.3h1.1v1.1h-1.1zM226.0 76.4h1.1v1.1h-1.1zM236.3 85.9h1.1v1.1h-1.1zM272.4 73.5h1.1v1.1h-1.1zM282.2 118.6h1.1v1.1h-1.1zM253.8 63.2h1.1v1.1h-1.1zM326.2 92.0h1.1v1.1h-1.1zM227.6 60.1h1.1v1.1h-1.1zM298.1 92.3h1.1v1.1h-1.1z" fill="#000" fill-opacity="0.55"/>
<g stroke="#000" stroke-linecap="round" fill="none"><line x1="220.6" y1="146.4" x2="231" y2="137.4" stroke-width="1.5750000000000002" stroke-opacity="0.95"/><line x1="238.6" y1="129.7" x2="257" y2="114" stroke-width="1.5" stroke-opacity="0.95"/><line x1="253.9" y1="115.3" x2="269.2" y2="102.3" stroke-width="1.5750000000000002" stroke-opacity="0.95"/><line x1="275.3" y1="96.7" x2="293.7" y2="80.5" stroke-width="1.9500000000000002" stroke-opacity="0.95"/><line x1="290.8" y1="81.8" x2="299.2" y2="75.3" stroke-width="1.5750000000000002" stroke-opacity="0.95"/><line x1="316.5" y1="58.6" x2="326" y2="51" stroke-width="1.7249999999999999" stroke-opacity="0.95"/><line x1="220.6" y1="113" x2="229.9" y2="102.8" stroke-width="1.5" stroke-opacity="0.95"/><line x1="220.9" y1="80.2" x2="226.2" y2="75.4" stroke-width="1.4249999999999998" stroke-opacity="0.95"/><line x1="222.6" y1="51.8" x2="224.6" y2="53.8" stroke-width="1.2000000000000002" stroke-opacity="0.95"/><line x1="252.2" y1="87.3" x2="263.4" y2="75.3" stroke-width="1.5" stroke-opacity="0.95"/><line x1="293.3" y1="113.5" x2="304.4" y2="101.9" stroke-width="1.5750000000000002" stroke-opacity="0.95"/><line x1="317.9" y1="87.4" x2="325.3" y2="80.2" stroke-width="1.5750000000000002" stroke-opacity="0.95"/><line x1="294.4" y1="146.4" x2="302.8" y2="138" stroke-width="1.5" stroke-opacity="0.95"/><line x1="254.5" y1="145.6" x2="267.8" y2="137.4" stroke-width="1.125" stroke-opacity="0.8"/><line x1="319.6" y1="117.6" x2="325.6" y2="114.3" stroke-width="1.5" stroke-opacity="0.95"/><line x1="253.3" y1="57.2" x2="257.6" y2="51.6" stroke-width="1.6500000000000001" stroke-opacity="0.95"/><line x1="288" y1="55.5" x2="294.5" y2="51.8" stroke-width="1.5" stroke-opacity="0.95"/><line x1="231" y1="137.4" x2="238.6" y2="130" stroke-width="0.75" stroke-opacity="0.45"/></g>
<g fill="#000" fill-opacity="0.88"><circle cx="223.6" cy="53" r="1.0"/><circle cx="229" cy="53" r="1.1"/><circle cx="240.4" cy="53" r="1.0"/><circle cx="247.1" cy="53" r="1.0"/><circle cx="255" cy="54.3" r="1.8"/><circle cx="259.3" cy="54.1" r="0.8"/><circle cx="263.4" cy="54.3" r="1.2"/><circle cx="267" cy="53.7" r="0.8"/><circle cx="290.8" cy="53.9" r="2.0"/><circle cx="297.5" cy="53.4" r="1.4"/><circle cx="301" cy="51.8" r="0.8"/><circle cx="304.5" cy="52.7" r="0.8"/><circle cx="307.7" cy="53.2" r="0.8"/><circle cx="314.3" cy="53.2" r="1.5"/><circle cx="322.4" cy="53.4" r="2.3"/><circle cx="244.7" cy="63.2" r="1.1"/><circle cx="277.9" cy="63.4" r="1.3"/><circle cx="312.6" cy="63.4" r="0.9"/><circle cx="222.4" cy="72" r="1.1"/><circle cx="246.8" cy="78.8" r="1.3"/><circle cx="252.2" cy="79.3" r="1.0"/><circle cx="222.4" cy="81.6" r="1.0"/><circle cx="229.6" cy="81.9" r="0.9"/><circle cx="266.1" cy="81.9" r="1.1"/><circle cx="297" cy="81.4" r="0.8"/><circle cx="284.3" cy="84.2" r="0.9"/><circle cx="324.3" cy="80" r="1.6"/><circle cx="323.7" cy="86.9" r="1.2"/><circle cx="252.9" cy="100.4" r="1.0"/><circle cx="271.7" cy="104.6" r="0.9"/><circle cx="324.2" cy="113.8" r="1.9"/><circle cx="298.4" cy="113.5" r="1.3"/><circle cx="292.4" cy="117" r="1.6"/><circle cx="291.2" cy="145" r="1.1"/><circle cx="253.5" cy="145" r="1.1"/><circle cx="323.5" cy="144.5" r="0.9"/><circle cx="243" cy="95.5" r="1.6"/><circle cx="246" cy="94.5" r="1.2"/><circle cx="248" cy="91.4" r="1.0"/><circle cx="253.2" cy="85.6" r="1.4"/><circle cx="277.2" cy="95.8" r="2.0"/><circle cx="311.4" cy="95.3" r="1.6"/><circle cx="310.3" cy="127.2" r="1.0"/><circle cx="314" cy="122.3" r="1.3"/><circle cx="280.5" cy="121.8" r="1.0"/><circle cx="290.6" cy="117" r="1.4"/><circle cx="258" cy="145.4" r="1.5"/><circle cx="262.8" cy="143.5" r="1.2"/><circle cx="267" cy="139.5" r="1.0"/><circle cx="231.3" cy="105.8" r="0.8"/><circle cx="304.2" cy="106" r="0.8"/><circle cx="318.8" cy="108.8" r="0.8"/><circle cx="320" cy="106" r="0.6"/><circle cx="324" cy="100.7" r="0.9"/><circle cx="312.3" cy="73.9" r="0.8"/><circle cx="305.3" cy="73.9" r="0.7"/><circle cx="308" cy="71.3" r="0.7"/><circle cx="303.1" cy="67.4" r="0.7"/><circle cx="296" cy="70.9" r="0.8"/><circle cx="295.5" cy="60.7" r="0.8"/></g>
<line x1="257.4" y1="150.8" x2="257.4" y2="153.3" stroke="#333" stroke-width="0.8"/>
<line x1="294.4" y1="150.8" x2="294.4" y2="153.3" stroke="#333" stroke-width="0.8"/>
<line x1="324.8" y1="150.8" x2="324.8" y2="153.3" stroke="#333" stroke-width="0.8"/>
<line x1="213.8" y1="51.2" x2="216.3" y2="51.2" stroke="#333" stroke-width="0.8"/>
<line x1="213.8" y1="79.5" x2="216.3" y2="79.5" stroke="#333" stroke-width="0.8"/>
<line x1="213.8" y1="113" x2="216.3" y2="113" stroke="#333" stroke-width="0.8"/>
<text x="234.14" y="168.50" font-size="11.7" fill="#000" textLength="14.70" lengthAdjust="spacingAndGlyphs" stroke="#000" stroke-width="0.18">2A</text>
<text x="267.83" y="168.50" font-size="11.7" fill="#000" textLength="14.77" lengthAdjust="spacingAndGlyphs" stroke="#000" stroke-width="0.18">2B</text>
<text x="302.40" y="168.50" font-size="11.7" fill="#000" textLength="16.24" lengthAdjust="spacingAndGlyphs" stroke="#000" stroke-width="0.18">2D</text>
<text x="196.14" y="67.80" font-size="11.7" fill="#000" textLength="15.17" lengthAdjust="spacingAndGlyphs" stroke="#000" stroke-width="0.18">2D</text>
<text x="196.14" y="98.30" font-size="11.7" fill="#000" textLength="14.67" lengthAdjust="spacingAndGlyphs" stroke="#000" stroke-width="0.18">2B</text>
<text x="195.94" y="137.90" font-size="11.7" fill="#000" textLength="14.60" lengthAdjust="spacingAndGlyphs" stroke="#000" stroke-width="0.18">2A</text>
<text x="213.41" y="189.00" font-size="12.2" fill="#000" textLength="123.42" lengthAdjust="spacingAndGlyphs" stroke="#000" stroke-width="0.18">eQTL location (spikes)</text>
<text x="187.30" y="139.30" font-size="11.7" fill="#000" textLength="79.22" lengthAdjust="spacingAndGlyphs" transform="rotate(-90 187.30 139.30)" stroke="#000" stroke-width="0.18">Gene location</text>
<rect x="393.30" y="23.10" width="9.50" height="9.50" fill="#CCCCCC" stroke="#A0A0A0" stroke-width="0.6"/>
<rect x="393.30" y="38.00" width="9.30" height="8.00" fill="#2B2BF0"/>
<text x="406.89" y="32.60" font-size="9.6" fill="#000" textLength="67.64" lengthAdjust="spacingAndGlyphs" stroke="#000" stroke-width="0.18">No shared eQTL</text>
<text x="407.32" y="47.20" font-size="9.6" fill="#000" textLength="53.80" lengthAdjust="spacingAndGlyphs" stroke="#000" stroke-width="0.18">Shared eQTL</text>
<g fill="#D6D6D6" stroke="#8A8A8A" stroke-width="0.55"><rect x="399.54" y="143.60" width="2.224" height="0.60"/><rect x="401.77" y="143.60" width="2.224" height="0.60"/><rect x="403.99" y="143.60" width="2.224" height="0.60"/><rect x="406.22" y="143.60" width="2.224" height="0.60"/><rect x="408.44" y="143.60" width="2.224" height="0.60"/><rect x="410.66" y="143.60" width="2.224" height="0.60"/><rect x="412.89" y="143.60" width="2.224" height="0.60"/><rect x="415.11" y="143.60" width="2.224" height="0.60"/><rect x="417.34" y="143.60" width="2.224" height="0.60"/><rect x="419.56" y="143.60" width="2.224" height="0.60"/><rect x="421.78" y="143.60" width="2.224" height="0.60"/><rect x="424.01" y="143.60" width="2.224" height="0.60"/><rect x="426.23" y="143.60" width="2.224" height="0.60"/><rect x="428.46" y="143.60" width="2.224" height="0.60"/><rect x="430.68" y="143.60" width="2.224" height="0.60"/><rect x="432.90" y="143.60" width="2.224" height="0.60"/><rect x="435.13" y="143.60" width="2.224" height="0.60"/><rect x="437.35" y="143.60" width="2.224" height="0.60"/><rect x="439.58" y="143.60" width="2.224" height="0.60"/><rect x="441.80" y="137.40" width="2.224" height="6.80"/><rect x="444.02" y="134.90" width="2.224" height="9.30"/><rect x="446.25" y="130.20" width="2.224" height="14.00"/><rect x="448.47" y="125.10" width="2.224" height="19.10"/><rect x="450.70" y="121.30" width="2.224" height="22.90"/><rect x="452.92" y="113.20" width="2.224" height="31.00"/><rect x="455.14" y="108.00" width="2.224" height="36.20"/><rect x="457.37" y="99.30" width="2.224" height="44.90"/><rect x="459.59" y="91.30" width="2.224" height="52.90"/><rect x="461.82" y="84.40" width="2.224" height="59.80"/><rect x="464.04" y="78.40" width="2.224" height="65.80"/><rect x="466.26" y="74.00" width="2.224" height="70.20"/><rect x="468.49" y="68.30" width="2.224" height="75.90"/><rect x="470.71" y="71.20" width="2.224" height="73.00"/><rect x="472.94" y="62.30" width="2.224" height="81.90"/><rect x="475.16" y="68.30" width="2.224" height="75.90"/><rect x="477.38" y="64.20" width="2.224" height="80.00"/><rect x="479.61" y="69.50" width="2.224" height="74.70"/><rect x="481.83" y="75.30" width="2.224" height="68.90"/><rect x="484.06" y="84.50" width="2.224" height="59.70"/><rect x="486.28" y="87.10" width="2.224" height="57.10"/><rect x="488.50" y="95.50" width="2.224" height="48.70"/><rect x="490.73" y="104.30" width="2.224" height="39.90"/><rect x="492.95" y="111.30" width="2.224" height="32.90"/><rect x="495.18" y="120.00" width="2.224" height="24.20"/><rect x="497.40" y="127.70" width="2.224" height="16.50"/><rect x="499.62" y="133.60" width="2.224" height="10.60"/><rect x="501.85" y="135.50" width="2.224" height="8.70"/><rect x="504.07" y="139.80" width="2.224" height="4.40"/><rect x="506.30" y="142.50" width="2.224" height="1.70"/><rect x="508.52" y="143.00" width="2.224" height="1.20"/></g>
<g fill="#0000CD" stroke="#00008B" stroke-width="0.4"><rect x="412.89" y="143.10" width="2.224" height="1.10"/><rect x="415.11" y="143.00" width="2.224" height="1.20"/><rect x="417.34" y="142.90" width="2.224" height="1.30"/><rect x="419.56" y="142.70" width="2.224" height="1.50"/><rect x="421.78" y="142.50" width="2.224" height="1.70"/><rect x="424.01" y="142.30" width="2.224" height="1.90"/><rect x="426.23" y="142.00" width="2.224" height="2.20"/><rect x="428.46" y="141.70" width="2.224" height="2.50"/><rect x="430.68" y="141.40" width="2.224" height="2.80"/><rect x="432.90" y="141.00" width="2.224" height="3.20"/><rect x="435.13" y="140.60" width="2.224" height="3.60"/><rect x="437.35" y="140.20" width="2.224" height="4.00"/><rect x="439.58" y="139.80" width="2.224" height="4.40"/><rect x="441.80" y="140.50" width="2.224" height="3.70"/><rect x="444.02" y="140.60" width="2.224" height="3.60"/><rect x="446.25" y="140.70" width="2.224" height="3.50"/><rect x="448.47" y="140.80" width="2.224" height="3.40"/><rect x="450.70" y="140.90" width="2.224" height="3.30"/><rect x="452.92" y="141.00" width="2.224" height="3.20"/><rect x="455.14" y="140.50" width="2.224" height="3.70"/><rect x="457.37" y="140.50" width="2.224" height="3.70"/><rect x="459.59" y="140.50" width="2.224" height="3.70"/><rect x="461.82" y="140.00" width="2.224" height="4.20"/><rect x="464.04" y="140.00" width="2.224" height="4.20"/><rect x="466.26" y="139.50" width="2.224" height="4.70"/><rect x="468.49" y="138.50" width="2.224" height="5.70"/><rect x="470.71" y="137.00" width="2.224" height="7.20"/><rect x="472.94" y="136.00" width="2.224" height="8.20"/><rect x="475.16" y="134.00" width="2.224" height="10.20"/><rect x="477.38" y="131.50" width="2.224" height="12.70"/><rect x="479.61" y="128.50" width="2.224" height="15.70"/><rect x="481.83" y="126.00" width="2.224" height="18.20"/><rect x="484.06" y="125.00" width="2.224" height="19.20"/><rect x="486.28" y="121.00" width="2.224" height="23.20"/><rect x="488.50" y="118.00" width="2.224" height="26.20"/><rect x="490.73" y="118.00" width="2.224" height="26.20"/><rect x="492.95" y="118.00" width="2.224" height="26.20"/><rect x="495.18" y="118.00" width="2.224" height="26.20"/><rect x="497.40" y="121.40" width="2.224" height="22.80"/><rect x="499.62" y="125.30" width="2.224" height="18.90"/><rect x="501.85" y="127.90" width="2.224" height="16.30"/><rect x="504.07" y="135.00" width="2.224" height="9.20"/><rect x="506.30" y="142.10" width="2.224" height="2.10"/><rect x="508.52" y="142.10" width="2.224" height="2.10"/></g>
<g fill="#6A72A8" stroke="#4B5185" stroke-width="0.5"><rect x="412.89" y="143.60" width="2.224" height="0.60"/><rect x="415.11" y="143.60" width="2.224" height="0.60"/><rect x="417.34" y="143.60" width="2.224" height="0.60"/><rect x="419.56" y="143.60" width="2.224" height="0.60"/><rect x="421.78" y="143.60" width="2.224" height="0.60"/><rect x="424.01" y="143.60" width="2.224" height="0.60"/><rect x="426.23" y="143.60" width="2.224" height="0.60"/><rect x="428.46" y="143.60" width="2.224" height="0.60"/><rect x="430.68" y="143.60" width="2.224" height="0.60"/><rect x="432.90" y="143.60" width="2.224" height="0.60"/><rect x="435.13" y="143.60" width="2.224" height="0.60"/><rect x="437.35" y="143.60" width="2.224" height="0.60"/><rect x="439.58" y="143.60" width="2.224" height="0.60"/><rect x="441.80" y="140.50" width="2.224" height="3.70"/><rect x="444.02" y="140.60" width="2.224" height="3.60"/><rect x="446.25" y="140.70" width="2.224" height="3.50"/><rect x="448.47" y="140.80" width="2.224" height="3.40"/><rect x="450.70" y="140.90" width="2.224" height="3.30"/><rect x="452.92" y="141.00" width="2.224" height="3.20"/><rect x="455.14" y="140.50" width="2.224" height="3.70"/><rect x="457.37" y="140.50" width="2.224" height="3.70"/><rect x="459.59" y="140.50" width="2.224" height="3.70"/><rect x="461.82" y="140.00" width="2.224" height="4.20"/><rect x="464.04" y="140.00" width="2.224" height="4.20"/><rect x="466.26" y="139.50" width="2.224" height="4.70"/><rect x="468.49" y="138.50" width="2.224" height="5.70"/><rect x="470.71" y="137.00" width="2.224" height="7.20"/><rect x="472.94" y="136.00" width="2.224" height="8.20"/><rect x="475.16" y="134.00" width="2.224" height="10.20"/><rect x="477.38" y="131.50" width="2.224" height="12.70"/><rect x="479.61" y="128.50" width="2.224" height="15.70"/><rect x="481.83" y="126.00" width="2.224" height="18.20"/><rect x="484.06" y="125.00" width="2.224" height="19.20"/><rect x="486.28" y="121.00" width="2.224" height="23.20"/><rect x="488.50" y="118.00" width="2.224" height="26.20"/><rect x="490.73" y="118.00" width="2.224" height="26.20"/><rect x="492.95" y="118.00" width="2.224" height="26.20"/><rect x="495.18" y="120.00" width="2.224" height="24.20"/><rect x="497.40" y="127.70" width="2.224" height="16.50"/><rect x="499.62" y="133.60" width="2.224" height="10.60"/><rect x="501.85" y="135.50" width="2.224" height="8.70"/><rect x="504.07" y="139.80" width="2.224" height="4.40"/><rect x="506.30" y="142.50" width="2.224" height="1.70"/><rect x="508.52" y="143.00" width="2.224" height="1.20"/></g>
<line x1="394.2" y1="59" x2="394.2" y2="148.8" stroke="#333" stroke-width="1.1"/>
<line x1="393.7" y1="148.3" x2="516.8" y2="148.3" stroke="#333" stroke-width="1.1"/>
<line x1="392.4" y1="68.9" x2="394.1" y2="68.9" stroke="#333" stroke-width="0.8"/>
<line x1="392.4" y1="106.5" x2="394.1" y2="106.5" stroke="#333" stroke-width="0.8"/>
<line x1="392.4" y1="144.2" x2="394.1" y2="144.2" stroke="#333" stroke-width="0.8"/>
<line x1="419.5" y1="148.3" x2="419.5" y2="150.6" stroke="#333" stroke-width="0.9"/>
<line x1="449.5" y1="148.3" x2="449.5" y2="150.6" stroke="#333" stroke-width="0.9"/>
<line x1="479.7" y1="148.3" x2="479.7" y2="150.6" stroke="#333" stroke-width="0.9"/>
<line x1="509.8" y1="148.3" x2="509.8" y2="150.6" stroke="#333" stroke-width="0.9"/>
<text x="368.53" y="73.40" font-size="8.9" fill="#000" textLength="20.40" lengthAdjust="spacingAndGlyphs" stroke="#000" stroke-width="0.18">1000</text>
<text x="373.82" y="110.40" font-size="8.9" fill="#000" textLength="15.11" lengthAdjust="spacingAndGlyphs" stroke="#000" stroke-width="0.18">500</text>
<text x="384.24" y="148.20" font-size="8.9" fill="#000" textLength="4.67" lengthAdjust="spacingAndGlyphs" stroke="#000" stroke-width="0.18">0</text>
<text x="410.40" y="161.50" font-size="9.2" fill="#000" textLength="16.80" lengthAdjust="spacingAndGlyphs" stroke="#000" stroke-width="0.18">-0.5</text>
<text x="443.19" y="161.50" font-size="9.2" fill="#000" textLength="13.65" lengthAdjust="spacingAndGlyphs" stroke="#000" stroke-width="0.18">0.0</text>
<text x="473.89" y="161.50" font-size="9.2" fill="#000" textLength="13.81" lengthAdjust="spacingAndGlyphs" stroke="#000" stroke-width="0.18">0.5</text>
<text x="503.07" y="161.50" font-size="9.2" fill="#000" textLength="13.98" lengthAdjust="spacingAndGlyphs" stroke="#000" stroke-width="0.18">1.0</text>
<text x="348.30" y="127.61" font-size="11.8" fill="#000" textLength="60.57" lengthAdjust="spacingAndGlyphs" transform="rotate(-90 348.30 127.61)" stroke="#000" stroke-width="0.18">Number of</text>
<text x="362.20" y="144.50" font-size="11.8" fill="#000" textLength="94.09" lengthAdjust="spacingAndGlyphs" transform="rotate(-90 362.20 144.50)" stroke="#000" stroke-width="0.18">homoeolog pairs</text>
<text x="390.40" y="176.80" font-size="12" fill="#000" textLength="130.41" lengthAdjust="spacingAndGlyphs" stroke="#000" stroke-width="0.18">Homoeolog expression</text>
<text x="408.12" y="193.60" font-size="12" fill="#000" textLength="95.12" lengthAdjust="spacingAndGlyphs" stroke="#000" stroke-width="0.18">correlation (SCC)</text>
<line x1="567.4" y1="21.8" x2="567.4" y2="121.2" stroke="#8C8C8C" stroke-width="1"/>
<line x1="566.9" y1="120.75" x2="676" y2="120.75" stroke="#8C8C8C" stroke-width="1"/>
<line x1="565.2" y1="31.5" x2="567.1" y2="31.5" stroke="#333" stroke-width="0.8"/>
<text x="548.64" y="34.80" font-size="8.6" fill="#222" textLength="13.60" lengthAdjust="spacingAndGlyphs" stroke="#222" stroke-width="0.18">2.0</text>
<line x1="565.2" y1="52.5" x2="567.1" y2="52.5" stroke="#333" stroke-width="0.8"/>
<text x="548.47" y="55.80" font-size="8.6" fill="#222" textLength="13.93" lengthAdjust="spacingAndGlyphs" stroke="#222" stroke-width="0.18">1.5</text>
<line x1="565.2" y1="74.1" x2="567.1" y2="74.1" stroke="#333" stroke-width="0.8"/>
<text x="548.48" y="77.40" font-size="8.6" fill="#222" textLength="13.77" lengthAdjust="spacingAndGlyphs" stroke="#222" stroke-width="0.18">1.0</text>
<line x1="565.2" y1="95.2" x2="567.1" y2="95.2" stroke="#333" stroke-width="0.8"/>
<text x="548.79" y="98.50" font-size="8.6" fill="#222" textLength="13.60" lengthAdjust="spacingAndGlyphs" stroke="#222" stroke-width="0.18">0.5</text>
<line x1="565.2" y1="115.9" x2="567.1" y2="115.9" stroke="#333" stroke-width="0.8"/>
<text x="548.80" y="119.20" font-size="8.6" fill="#222" textLength="13.44" lengthAdjust="spacingAndGlyphs" stroke="#222" stroke-width="0.18">0.0</text>
<line x1="583.7" y1="120.6" x2="583.7" y2="122.6" stroke="#333" stroke-width="0.8"/>
<line x1="611" y1="120.6" x2="611" y2="122.6" stroke="#333" stroke-width="0.8"/>
<line x1="638" y1="120.6" x2="638" y2="122.6" stroke="#333" stroke-width="0.8"/>
<line x1="664.8" y1="120.6" x2="664.8" y2="122.6" stroke="#333" stroke-width="0.8"/>
<line x1="578.05" y1="26.9" x2="578.05" y2="63.3" stroke="#7A7A7A" stroke-width="0.75"/>
<line x1="578.05" y1="90.3" x2="578.05" y2="101.7" stroke="#7A7A7A" stroke-width="0.75"/>
<rect x="573.40" y="63.30" width="9.30" height="27.00" fill="#F8766D" stroke="#444" stroke-width="0.7"/>
<line x1="573.4" y1="80.1" x2="582.7" y2="80.1" stroke="#222" stroke-width="1.3"/>
<line x1="588.15" y1="48.5" x2="588.15" y2="78.1" stroke="#7A7A7A" stroke-width="0.75"/>
<line x1="588.15" y1="98.3" x2="588.15" y2="110.2" stroke="#7A7A7A" stroke-width="0.75"/>
<rect x="583.30" y="78.10" width="9.70" height="20.20" fill="#00BFC4" stroke="#444" stroke-width="0.7"/>
<line x1="583.3" y1="89.5" x2="593" y2="89.5" stroke="#222" stroke-width="1.3"/>
<line x1="605.05" y1="46.3" x2="605.05" y2="72.4" stroke="#7A7A7A" stroke-width="0.75"/>
<line x1="605.05" y1="95.4" x2="605.05" y2="110.2" stroke="#7A7A7A" stroke-width="0.75"/>
<rect x="600.40" y="72.40" width="9.30" height="23.00" fill="#F8766D" stroke="#444" stroke-width="0.7"/>
<line x1="600.4" y1="83.8" x2="609.7" y2="83.8" stroke="#222" stroke-width="1.3"/>
<line x1="615.0" y1="54.8" x2="615.0" y2="83.2" stroke="#7A7A7A" stroke-width="0.75"/>
<line x1="615.0" y1="102.5" x2="615.0" y2="111.6" stroke="#7A7A7A" stroke-width="0.75"/>
<rect x="610.30" y="83.20" width="9.40" height="19.30" fill="#00BFC4" stroke="#444" stroke-width="0.7"/>
<line x1="610.3" y1="95.2" x2="619.7" y2="95.2" stroke="#222" stroke-width="1.3"/>
<line x1="631.9000000000001" y1="57.6" x2="631.9000000000001" y2="74.7" stroke="#7A7A7A" stroke-width="0.75"/>
<line x1="631.9000000000001" y1="94.6" x2="631.9000000000001" y2="105.4" stroke="#7A7A7A" stroke-width="0.75"/>
<rect x="627.10" y="74.70" width="9.60" height="19.90" fill="#F8766D" stroke="#444" stroke-width="0.7"/>
<line x1="627.1" y1="85.5" x2="636.7" y2="85.5" stroke="#222" stroke-width="1.3"/>
<line x1="642.0" y1="58.2" x2="642.0" y2="85.5" stroke="#7A7A7A" stroke-width="0.75"/>
<line x1="642.0" y1="103.1" x2="642.0" y2="112.5" stroke="#7A7A7A" stroke-width="0.75"/>
<rect x="637.30" y="85.50" width="9.40" height="17.60" fill="#00BFC4" stroke="#444" stroke-width="0.7"/>
<line x1="637.3" y1="96.9" x2="646.7" y2="96.9" stroke="#222" stroke-width="1.3"/>
<line x1="658.65" y1="53.7" x2="658.65" y2="76.1" stroke="#7A7A7A" stroke-width="0.75"/>
<line x1="658.65" y1="95.4" x2="658.65" y2="108.8" stroke="#7A7A7A" stroke-width="0.75"/>
<rect x="653.80" y="76.10" width="9.70" height="19.30" fill="#F8766D" stroke="#444" stroke-width="0.7"/>
<line x1="653.8" y1="90.3" x2="663.5" y2="90.3" stroke="#222" stroke-width="1.3"/>
<line x1="668.85" y1="66.2" x2="668.85" y2="89.5" stroke="#7A7A7A" stroke-width="0.75"/>
<line x1="668.85" y1="105.4" x2="668.85" y2="112.5" stroke="#7A7A7A" stroke-width="0.75"/>
<rect x="664.00" y="89.50" width="9.70" height="15.90" fill="#00BFC4" stroke="#444" stroke-width="0.7"/>
<line x1="664" y1="99.1" x2="673.7" y2="99.1" stroke="#222" stroke-width="1.3"/>
<line x1="600.6" y1="16.1" x2="600.6" y2="27.8" stroke="#666" stroke-width="0.7"/>
<line x1="600.6" y1="32.9" x2="600.6" y2="44.7" stroke="#666" stroke-width="0.7"/>
<rect x="595.30" y="18.30" width="10.70" height="7.50" fill="#F8766D" stroke="#444" stroke-width="0.7"/>
<line x1="595.3" y1="22.05" x2="606" y2="22.05" stroke="#222" stroke-width="1.0"/>
<rect x="595.30" y="35.30" width="10.70" height="7.30" fill="#00BFC4" stroke="#444" stroke-width="0.7"/>
<line x1="595.3" y1="38.95" x2="606" y2="38.95" stroke="#222" stroke-width="1.0"/>
<text x="610.16" y="25.30" font-size="7.8" fill="#000" textLength="36.08" lengthAdjust="spacingAndGlyphs" stroke="#000" stroke-width="0.18">Singletons</text>
<text x="609.77" y="42.60" font-size="7.8" fill="#000" textLength="45.08" lengthAdjust="spacingAndGlyphs" stroke="#000" stroke-width="0.18">Homoeologs</text>
<text x="540.20" y="118.38" font-size="12.4" fill="#000" textLength="82.94" lengthAdjust="spacingAndGlyphs" transform="rotate(-90 540.20 118.38)" stroke="#000" stroke-width="0.18"><tspan font-style="italic">cis</tspan>-eQTL effect</text>
<text x="586" y="149.3" font-size="9.8" text-anchor="middle" stroke="#000" stroke-width="0.15" transform="rotate(-45 586 145.9)">0.00-0.125</text>
<text x="610" y="148.8" font-size="9.8" text-anchor="middle" stroke="#000" stroke-width="0.15" transform="rotate(-45 610 145.4)">0.125-0.25</text>
<text x="632.9" y="148.4" font-size="9.8" text-anchor="middle" stroke="#000" stroke-width="0.15" transform="rotate(-45 632.9 145)">0.25-0.375</text>
<text x="655.6" y="148.4" font-size="9.8" text-anchor="middle" stroke="#000" stroke-width="0.15" transform="rotate(-45 655.6 145)">0.375-0.50</text>
<text x="575.01" y="177.60" font-size="11.9" fill="#000" textLength="85.05" lengthAdjust="spacingAndGlyphs" stroke="#000" stroke-width="0.18"><tspan font-style="italic">cis</tspan>-eQTL minor</text>
<text x="574.60" y="194.10" font-size="11.9" fill="#000" textLength="89.70" lengthAdjust="spacingAndGlyphs" stroke="#000" stroke-width="0.18">allele frequency</text>
<text x="176.63" y="226.90" font-size="12" fill="#000" textLength="325.24" lengthAdjust="spacingAndGlyphs" stroke="#000" stroke-width="0.18"><tspan font-weight="bold">Configurations of eQTL regulating homoeolog expression</tspan></text>
<path d="M49.50 356.90V356.50H53.79V356.90ZM53.79 356.90V356.50H58.07V356.90ZM58.07 356.90V356.50H62.36V356.90ZM62.36 356.90V356.40H66.64V356.90ZM66.64 356.90V356.10H70.93V356.90ZM70.93 356.90V355.00H75.22V356.90ZM75.22 356.90V354.00H79.50V356.90ZM79.50 356.90V352.70H83.79V356.90ZM83.79 356.90V350.30H88.07V356.90ZM88.07 356.90V344.00H92.36V356.90ZM92.36 356.90V340.00H96.65V356.90ZM96.65 356.90V336.30H100.93V356.90ZM100.93 356.90V327.70H105.22V356.90ZM105.22 356.90V324.70H109.50V356.90ZM109.50 356.90V321.60H113.79V356.90ZM113.79 356.90V312.30H118.08V356.90ZM118.08 356.90V303.30H122.36V356.90ZM122.36 356.90V299.00H126.65V356.90ZM126.65 356.90V294.40H130.93V356.90ZM130.93 356.90V287.00H135.22V356.90ZM135.22 356.90V283.30H139.51V356.90ZM139.51 356.90V285.80H143.79V356.90ZM143.79 356.90V287.40H148.08V356.90ZM148.08 356.90V300.20H152.36V356.90ZM152.36 356.90V302.60H156.65V356.90ZM156.65 356.90V307.20H160.94V356.90ZM160.94 356.90V319.30H165.22V356.90ZM165.22 356.90V339.80H169.51V356.90ZM169.51 356.90V354.20H173.79V356.90ZM173.79 356.90V354.20H178.08V356.90Z" fill="#585858"/>
<line x1="43.6" y1="279.1" x2="43.6" y2="360.8" stroke="#333" stroke-width="1.0"/>
<line x1="43.1" y1="360.3" x2="185" y2="360.3" stroke="#333" stroke-width="1.0"/>
<line x1="41.6" y1="356.9" x2="43.6" y2="356.9" stroke="#333" stroke-width="0.8"/>
<text x="39.2" y="361.9" font-size="10" text-anchor="end" fill="#4D4D4D">0</text>
<line x1="41.6" y1="338.59999999999997" x2="43.6" y2="338.59999999999997" stroke="#333" stroke-width="0.8"/>
<text x="39.2" y="343.59999999999997" font-size="10" text-anchor="end" fill="#4D4D4D">100</text>
<line x1="41.6" y1="320.29999999999995" x2="43.6" y2="320.29999999999995" stroke="#333" stroke-width="0.8"/>
<text x="39.2" y="325.29999999999995" font-size="10" text-anchor="end" fill="#4D4D4D">200</text>
<line x1="41.6" y1="302.0" x2="43.6" y2="302.0" stroke="#333" stroke-width="0.8"/>
<text x="39.2" y="307.0" font-size="10" text-anchor="end" fill="#4D4D4D">300</text>
<line x1="41.6" y1="283.7" x2="43.6" y2="283.7" stroke="#333" stroke-width="0.8"/>
<text x="39.2" y="288.7" font-size="10" text-anchor="end" fill="#4D4D4D">400</text>
<line x1="77.6" y1="360.3" x2="77.6" y2="362.3" stroke="#333" stroke-width="0.8"/>
<text x="77.6" y="372.5" font-size="9.6" text-anchor="middle" fill="#222" stroke="#222" stroke-width="0.15">0.0</text>
<line x1="126.3" y1="360.3" x2="126.3" y2="362.3" stroke="#333" stroke-width="0.8"/>
<text x="126.3" y="372.5" font-size="9.6" text-anchor="middle" fill="#222" stroke="#222" stroke-width="0.15">0.5</text>
<line x1="175" y1="360.3" x2="175" y2="362.3" stroke="#333" stroke-width="0.8"/>
<text x="175" y="372.5" font-size="9.6" text-anchor="middle" fill="#222" stroke="#222" stroke-width="0.15">1.0</text>
<path d="M217.90 356.60V352.86H222.22V356.60ZM239.50 356.60V345.37H243.82V356.60ZM243.82 356.60V349.11H248.14V356.60ZM248.14 356.60V341.62H252.46V356.60ZM252.46 356.60V345.37H256.78V356.60ZM256.78 356.60V334.13H261.10V356.60ZM261.10 356.60V326.64H265.42V356.60ZM265.42 356.60V345.37H269.74V356.60ZM269.74 356.60V315.41H274.06V356.60ZM274.06 356.60V330.39H278.38V356.60ZM278.38 356.60V304.17H282.70V356.60ZM282.70 356.60V296.68H287.02V356.60ZM287.02 356.60V322.90H291.34V356.60ZM291.34 356.60V322.90H295.66V356.60ZM295.66 356.60V326.64H299.98V356.60ZM299.98 356.60V334.13H304.30V356.60ZM304.30 356.60V326.64H308.62V356.60ZM308.62 356.60V315.41H312.94V356.60ZM312.94 356.60V300.43H317.26V356.60ZM317.26 356.60V300.43H321.58V356.60ZM321.58 356.60V296.68H325.90V356.60ZM325.90 356.60V281.70H330.22V356.60ZM330.22 356.60V304.17H334.54V356.60ZM334.54 356.60V315.41H338.86V356.60ZM338.86 356.60V319.15H343.18V356.60ZM343.18 356.60V345.37H347.50V356.60Z" fill="#585858"/>
<line x1="211.6" y1="278.2" x2="211.6" y2="360.7" stroke="#333" stroke-width="1.0"/>
<line x1="211.1" y1="360.2" x2="354.2" y2="360.2" stroke="#333" stroke-width="1.0"/>
<line x1="209.6" y1="356.6" x2="211.6" y2="356.6" stroke="#333" stroke-width="0.8"/>
<text x="207.2" y="360.20000000000005" font-size="10" text-anchor="end" fill="#4D4D4D">0</text>
<line x1="209.6" y1="337.875" x2="211.6" y2="337.875" stroke="#333" stroke-width="0.8"/>
<text x="207.2" y="341.475" font-size="10" text-anchor="end" fill="#4D4D4D">5</text>
<line x1="209.6" y1="319.15000000000003" x2="211.6" y2="319.15000000000003" stroke="#333" stroke-width="0.8"/>
<text x="207.2" y="322.75000000000006" font-size="10" text-anchor="end" fill="#4D4D4D">10</text>
<line x1="209.6" y1="300.425" x2="211.6" y2="300.425" stroke="#333" stroke-width="0.8"/>
<text x="207.2" y="304.02500000000003" font-size="10" text-anchor="end" fill="#4D4D4D">15</text>
<line x1="209.6" y1="281.70000000000005" x2="211.6" y2="281.70000000000005" stroke="#333" stroke-width="0.8"/>
<text x="207.2" y="285.30000000000007" font-size="10" text-anchor="end" fill="#4D4D4D">20</text>
<line x1="233.4" y1="360.2" x2="233.4" y2="362.2" stroke="#333" stroke-width="0.8"/>
<text x="233.4" y="372.5" font-size="9.6" text-anchor="middle" fill="#222" stroke="#222" stroke-width="0.15">0.0</text>
<line x1="291.1" y1="360.2" x2="291.1" y2="362.2" stroke="#333" stroke-width="0.8"/>
<text x="291.1" y="372.5" font-size="9.6" text-anchor="middle" fill="#222" stroke="#222" stroke-width="0.15">0.5</text>
<line x1="348.8" y1="360.2" x2="348.8" y2="362.2" stroke="#333" stroke-width="0.8"/>
<text x="348.8" y="372.5" font-size="9.6" text-anchor="middle" fill="#222" stroke="#222" stroke-width="0.15">1.0</text>
<path d="M382.10 357.10V355.03H386.35V357.10ZM386.35 357.10V355.03H390.59V357.10ZM394.84 357.10V355.03H399.08V357.10ZM399.08 357.10V352.96H403.33V357.10ZM403.33 357.10V350.89H407.57V357.10ZM407.57 357.10V352.96H411.81V357.10ZM411.81 357.10V350.89H416.06V357.10ZM416.06 357.10V334.33H420.31V357.10ZM420.31 357.10V317.77H424.55V357.10ZM424.55 357.10V330.19H428.80V357.10ZM428.80 357.10V315.70H433.04V357.10ZM433.04 357.10V315.70H437.29V357.10ZM437.29 357.10V321.91H441.53V357.10ZM441.53 357.10V326.05H445.78V357.10ZM445.78 357.10V317.77H450.02V357.10ZM450.02 357.10V297.07H454.27V357.10ZM454.27 357.10V284.65H458.51V357.10ZM458.51 357.10V303.28H462.75V357.10ZM462.75 357.10V328.12H467.00V357.10ZM467.00 357.10V319.84H471.25V357.10ZM471.25 357.10V326.05H475.49V357.10ZM475.49 357.10V326.05H479.74V357.10ZM479.74 357.10V332.26H483.98V357.10ZM483.98 357.10V346.75H488.23V357.10ZM488.23 357.10V350.89H492.47V357.10ZM492.47 357.10V346.75H496.72V357.10ZM496.72 357.10V352.96H500.96V357.10ZM500.96 357.10V355.03H505.21V357.10ZM505.21 357.10V355.03H509.45V357.10Z" fill="#585858"/>
<line x1="375.5" y1="280.9" x2="375.5" y2="361.7" stroke="#333" stroke-width="1.0"/>
<line x1="375.0" y1="361.2" x2="515.2" y2="361.2" stroke="#333" stroke-width="1.0"/>
<line x1="373.5" y1="357.1" x2="375.5" y2="357.1" stroke="#333" stroke-width="0.8"/>
<text x="371.1" y="360.70000000000005" font-size="10" text-anchor="end" fill="#4D4D4D">0</text>
<line x1="373.5" y1="336.40000000000003" x2="375.5" y2="336.40000000000003" stroke="#333" stroke-width="0.8"/>
<text x="371.1" y="340.00000000000006" font-size="10" text-anchor="end" fill="#4D4D4D">10</text>
<line x1="373.5" y1="315.70000000000005" x2="375.5" y2="315.70000000000005" stroke="#333" stroke-width="0.8"/>
<text x="371.1" y="319.30000000000007" font-size="10" text-anchor="end" fill="#4D4D4D">20</text>
<line x1="373.5" y1="295.0" x2="375.5" y2="295.0" stroke="#333" stroke-width="0.8"/>
<text x="371.1" y="298.6" font-size="10" text-anchor="end" fill="#4D4D4D">30</text>
<line x1="430.9" y1="361.2" x2="430.9" y2="363.2" stroke="#333" stroke-width="0.8"/>
<text x="430.9" y="372.5" font-size="9.6" text-anchor="middle" fill="#222" stroke="#222" stroke-width="0.15">0.0</text>
<line x1="489.9" y1="361.2" x2="489.9" y2="363.2" stroke="#333" stroke-width="0.8"/>
<text x="489.9" y="372.5" font-size="9.6" text-anchor="middle" fill="#222" stroke="#222" stroke-width="0.15">0.5</text>
<path d="M540.10 357.00V354.07H544.37V357.00ZM544.37 357.00V354.07H548.64V357.00ZM548.64 357.00V348.21H552.91V357.00ZM552.91 357.00V342.35H557.18V357.00ZM557.18 357.00V315.98H561.45V357.00ZM561.45 357.00V318.91H565.72V357.00ZM565.72 357.00V292.54H569.99V357.00ZM569.99 357.00V283.75H574.26V357.00ZM574.26 357.00V289.61H578.53V357.00ZM578.53 357.00V286.68H582.80V357.00ZM582.80 357.00V283.75H587.07V357.00ZM587.07 357.00V286.68H591.34V357.00ZM591.34 357.00V283.75H595.61V357.00ZM595.61 357.00V327.70H599.88V357.00ZM599.88 357.00V321.84H604.15V357.00ZM604.15 357.00V330.63H608.42V357.00ZM608.42 357.00V336.49H612.69V357.00ZM612.69 357.00V342.35H616.96V357.00ZM616.96 357.00V354.07H621.23V357.00ZM621.23 357.00V354.07H625.50V357.00ZM629.77 357.00V348.21H634.04V357.00ZM634.04 357.00V354.07H638.31V357.00ZM642.58 357.00V354.07H646.85V357.00ZM663.93 357.00V354.07H668.20V357.00Z" fill="#585858"/>
<line x1="533.4" y1="279.7" x2="533.4" y2="361.7" stroke="#333" stroke-width="1.0"/>
<line x1="532.9" y1="361.2" x2="674.1" y2="361.2" stroke="#333" stroke-width="1.0"/>
<line x1="531.4" y1="357.0" x2="533.4" y2="357.0" stroke="#333" stroke-width="0.8"/>
<text x="529.0" y="360.6" font-size="10" text-anchor="end" fill="#4D4D4D">0</text>
<line x1="531.4" y1="342.35" x2="533.4" y2="342.35" stroke="#333" stroke-width="0.8"/>
<text x="529.0" y="345.95000000000005" font-size="10" text-anchor="end" fill="#4D4D4D">5</text>
<line x1="531.4" y1="327.7" x2="533.4" y2="327.7" stroke="#333" stroke-width="0.8"/>
<text x="529.0" y="331.3" font-size="10" text-anchor="end" fill="#4D4D4D">10</text>
<line x1="531.4" y1="313.05" x2="533.4" y2="313.05" stroke="#333" stroke-width="0.8"/>
<text x="529.0" y="316.65000000000003" font-size="10" text-anchor="end" fill="#4D4D4D">15</text>
<line x1="531.4" y1="298.4" x2="533.4" y2="298.4" stroke="#333" stroke-width="0.8"/>
<text x="529.0" y="302.0" font-size="10" text-anchor="end" fill="#4D4D4D">20</text>
<line x1="531.4" y1="283.75" x2="533.4" y2="283.75" stroke="#333" stroke-width="0.8"/>
<text x="529.0" y="287.35" font-size="10" text-anchor="end" fill="#4D4D4D">25</text>
<line x1="565.3" y1="361.2" x2="565.3" y2="363.2" stroke="#333" stroke-width="0.8"/>
<text x="565.3" y="372.5" font-size="9.6" text-anchor="middle" fill="#222" stroke="#222" stroke-width="0.15">-0.5</text>
<line x1="601.9" y1="361.2" x2="601.9" y2="363.2" stroke="#333" stroke-width="0.8"/>
<text x="601.9" y="372.5" font-size="9.6" text-anchor="middle" fill="#222" stroke="#222" stroke-width="0.15">0.0</text>
<line x1="638.5" y1="361.2" x2="638.5" y2="363.2" stroke="#333" stroke-width="0.8"/>
<text x="638.5" y="372.5" font-size="9.6" text-anchor="middle" fill="#222" stroke="#222" stroke-width="0.15">0.5</text>
<line x1="49.5" y1="356.59999999999997" x2="67" y2="356.59999999999997" stroke="#E0E0E0" stroke-width="0.8"/>
<line x1="222.2" y1="356.3" x2="239.5" y2="356.3" stroke="#E0E0E0" stroke-width="0.8"/>
<line x1="390.4" y1="356.3" x2="394.7" y2="356.3" stroke="#E0E0E0" stroke-width="0.8"/>
<line x1="625.3" y1="357.09999999999997" x2="668" y2="357.09999999999997" stroke="#E0E0E0" stroke-width="0.8"/>
<text x="49.88" y="384.90" font-size="9.3" fill="#000" textLength="119.40" lengthAdjust="spacingAndGlyphs" stroke="#000" stroke-width="0.18">Expression correlation (SCC)</text>
<text x="223.78" y="385.20" font-size="9.3" fill="#000" textLength="119.70" lengthAdjust="spacingAndGlyphs" stroke="#000" stroke-width="0.18">Expression correlation (SCC)</text>
<text x="384.38" y="384.80" font-size="9.3" fill="#000" textLength="119.20" lengthAdjust="spacingAndGlyphs" stroke="#000" stroke-width="0.18">Expression correlation (SCC)</text>
<text x="542.19" y="384.80" font-size="9.3" fill="#000" textLength="118.49" lengthAdjust="spacingAndGlyphs" stroke="#000" stroke-width="0.18">Expression correlation (SCC)</text>
<text x="14.90" y="380.35" font-size="9.8" fill="#000" textLength="118.05" lengthAdjust="spacingAndGlyphs" transform="rotate(-90 14.90 380.35)" stroke="#000" stroke-width="0.18">Number of homoeolog pairs</text>
<text x="108.10" y="247.90" font-size="9.8" fill="#000" textLength="71.56" lengthAdjust="spacingAndGlyphs" stroke="#000" stroke-width="0.18">Mean SCC = 0.57</text>
<text x="273.70" y="247.90" font-size="9.8" fill="#000" textLength="71.67" lengthAdjust="spacingAndGlyphs" stroke="#000" stroke-width="0.18">Mean SCC = 0.59</text>
<text x="433.30" y="247.90" font-size="9.8" fill="#000" textLength="71.56" lengthAdjust="spacingAndGlyphs" stroke="#000" stroke-width="0.18">Mean SCC = 0.17</text>
<text x="565.28" y="247.90" font-size="9.8" fill="#000" textLength="76.09" lengthAdjust="spacingAndGlyphs" stroke="#000" stroke-width="0.18">Mean SCC = -0.26</text>
<text x="46.46" y="318.70" font-size="9.8" fill="#000" textLength="63.94" lengthAdjust="spacingAndGlyphs" stroke="#000" stroke-width="0.18">N=11,212 pairs</text>
<text x="219.96" y="311.00" font-size="9.8" fill="#000" textLength="51.23" lengthAdjust="spacingAndGlyphs" stroke="#000" stroke-width="0.18">N=233 pairs</text>
<text x="382.97" y="310.30" font-size="9.8" fill="#000" textLength="50.93" lengthAdjust="spacingAndGlyphs" stroke="#000" stroke-width="0.18">N=329 pairs</text>
<text x="605.76" y="319.50" font-size="9.8" fill="#000" textLength="51.44" lengthAdjust="spacingAndGlyphs" stroke="#000" stroke-width="0.18">N=256 pairs</text>
<text x="116.76" y="277.60" font-size="7.8" fill="#000" textLength="55.72" lengthAdjust="spacingAndGlyphs" stroke="#000" stroke-width="0.18"><tspan font-weight="bold">Configuration 1</tspan></text>
<text x="304.06" y="277.80" font-size="7.8" fill="#000" textLength="55.72" lengthAdjust="spacingAndGlyphs" stroke="#000" stroke-width="0.18"><tspan font-weight="bold">Configuration 2</tspan></text>
<text x="452.67" y="278.00" font-size="7.8" fill="#000" textLength="55.52" lengthAdjust="spacingAndGlyphs" stroke="#000" stroke-width="0.18"><tspan font-weight="bold">Configuration 3</tspan></text>
<text x="534.17" y="277.90" font-size="7.8" fill="#000" textLength="55.49" lengthAdjust="spacingAndGlyphs" stroke="#000" stroke-width="0.18"><tspan font-weight="bold">Configuration 4</tspan></text>
<line x1="54.2" y1="269.8" x2="114.2" y2="269.8" stroke="#666" stroke-width="1"/>
<rect x="73.20" y="265.30" width="30.30" height="8.30" fill="#fff" stroke="#1874CD" stroke-width="0.9"/>
<text x="88.35000000000001" y="272.3" font-size="7.3" text-anchor="middle" fill="#1a1a1a" textLength="24.8" lengthAdjust="spacingAndGlyphs" stroke="#1a1a1a" stroke-width="0.15">chr. 3B</text>
<path d="M73.2 265.3 V260.3 H75.9" fill="none" stroke="#1874CD" stroke-width="0.9"/>
<polygon points="75.9,257.2 82.7,260.3 75.9,263.40000000000003" fill="#1874CD"/>
<line x1="54.2" y1="289.4" x2="114.2" y2="289.4" stroke="#333" stroke-width="1"/>
<rect x="73.20" y="285.50" width="30.30" height="7.50" fill="#fff" stroke="#C8651B" stroke-width="0.9"/>
<text x="88.35000000000001" y="291.7" font-size="7.3" text-anchor="middle" fill="#1a1a1a" textLength="24.8" lengthAdjust="spacingAndGlyphs" stroke="#1a1a1a" stroke-width="0.15">chr. 3D</text>
<path d="M73.2 285.5 V280.3 H75.9" fill="none" stroke="#C8651B" stroke-width="0.9"/>
<polygon points="75.9,277.2 82.3,280.3 75.9,283.40000000000003" fill="#C8651B"/>
<line x1="248.4" y1="264.7" x2="308" y2="264.7" stroke="#222" stroke-width="1"/>
<rect x="266.90" y="260.50" width="30.50" height="7.70" fill="#fff" stroke="#1874CD" stroke-width="0.9"/>
<text x="282.15" y="266.9" font-size="7.3" text-anchor="middle" fill="#1a1a1a" textLength="25.0" lengthAdjust="spacingAndGlyphs" stroke="#1a1a1a" stroke-width="0.15">chr. 3B</text>
<path d="M266.9 260.5 V255.5 H269.59999999999997" fill="none" stroke="#1874CD" stroke-width="0.9"/>
<polygon points="269.59999999999997,252.4 276.6,255.5 269.59999999999997,258.6" fill="#1874CD"/>
<line x1="248.4" y1="284.5" x2="308" y2="284.5" stroke="#222" stroke-width="1"/>
<rect x="266.90" y="280.00" width="30.50" height="7.90" fill="#fff" stroke="#C8651B" stroke-width="0.9"/>
<text x="282.15" y="286.59999999999997" font-size="7.3" text-anchor="middle" fill="#1a1a1a" textLength="25.0" lengthAdjust="spacingAndGlyphs" stroke="#1a1a1a" stroke-width="0.15">chr. 3D</text>
<path d="M266.9 280 V275.3 H269.59999999999997" fill="none" stroke="#C8651B" stroke-width="0.9"/>
<polygon points="269.59999999999997,272.2 276.6,275.3 269.59999999999997,278.40000000000003" fill="#C8651B"/>
<line x1="209.9" y1="268.4" x2="237.1" y2="268.4" stroke="#000" stroke-width="1"/>
<path d="M225.3 266.2 C231 257 243 254.8 258.2 258.6" fill="none" stroke="#1874CD" stroke-width="0.9" stroke-dasharray="1.2 0.9"/>
<path d="M225.3 270.6 C231 280 243 281.2 258.2 278.4" fill="none" stroke="#1874CD" stroke-width="0.9" stroke-dasharray="1.2 0.9"/>
<polygon points="257.9,255.4 264.4,259 257.4,261.6" fill="#1874CD"/>
<polygon points="257.4,275.1 264.4,278.2 257.9,281.3" fill="#1874CD"/>
<circle cx="223.4" cy="268.4" r="2.9" fill="#FF0000"/>
<text x="202.56" y="253.40" font-size="7.6" fill="#000" textLength="39.13" lengthAdjust="spacingAndGlyphs" stroke="#000" stroke-width="0.18"><tspan font-style="italic">trans</tspan>-eQTL</text>
<line x1="386.8" y1="264.2" x2="447.1" y2="264.2" stroke="#222" stroke-width="1"/>
<rect x="412.70" y="259.80" width="30.00" height="8.60" fill="#fff" stroke="#1874CD" stroke-width="0.9"/>
<text x="427.7" y="267.1" font-size="7.3" text-anchor="middle" fill="#1a1a1a" textLength="24.5" lengthAdjust="spacingAndGlyphs" stroke="#1a1a1a" stroke-width="0.15">chr. 3B</text>
<path d="M412.7 259.8 V255.2 H415.4" fill="none" stroke="#1874CD" stroke-width="0.9"/>
<polygon points="415.4,252.1 421.7,255.2 415.4,258.3" fill="#1874CD"/>
<line x1="386.8" y1="284.3" x2="447.1" y2="284.3" stroke="#222" stroke-width="1"/>
<rect x="412.70" y="279.70" width="30.00" height="8.10" fill="#fff" stroke="#C8651B" stroke-width="0.9"/>
<text x="427.7" y="286.5" font-size="7.3" text-anchor="middle" fill="#1a1a1a" textLength="24.5" lengthAdjust="spacingAndGlyphs" stroke="#1a1a1a" stroke-width="0.15">chr. 3D</text>
<path d="M412.7 279.7 V275 H415.4" fill="none" stroke="#C8651B" stroke-width="0.9"/>
<polygon points="415.4,271.9 421.7,275 415.4,278.1" fill="#C8651B"/>
<path d="M393.6 261.2 C393.8 254.2 397.5 251.39999999999998 403.2 252.2" fill="none" stroke="#1874CD" stroke-width="0.9" stroke-dasharray="1.2 0.9"/>
<polygon points="403.8,249.6 409.4,255.2 402.3,255.89999999999998" fill="#1874CD"/>
<circle cx="393.5" cy="264.2" r="2.85" fill="#FF0000"/>
<path d="M393.6 281.3 C393.8 274.3 397.5 271.5 403.2 272.3" fill="none" stroke="#1874CD" stroke-width="0.9" stroke-dasharray="1.2 0.9"/>
<polygon points="403.8,269.7 409.4,275.3 402.3,276.0" fill="#1874CD"/>
<circle cx="393.5" cy="284.3" r="2.85" fill="#FF0000"/>
<text x="361.78" y="258.30" font-size="7.6" fill="#000" textLength="29.10" lengthAdjust="spacingAndGlyphs" stroke="#000" stroke-width="0.18"><tspan font-style="italic">cis</tspan>-eQTL</text>
<line x1="611.5" y1="271.6" x2="685" y2="271.6" stroke="#777" stroke-width="1"/>
<rect x="650.20" y="267.30" width="30.70" height="8.40" fill="#fff" stroke="#1874CD" stroke-width="0.9"/>
<text x="665.5500000000001" y="274.4" font-size="7.3" text-anchor="middle" fill="#1a1a1a" textLength="25.2" lengthAdjust="spacingAndGlyphs" stroke="#1a1a1a" stroke-width="0.15">chr. 3B</text>
<path d="M650.2 267.3 V263 H652.9000000000001" fill="none" stroke="#1874CD" stroke-width="0.9"/>
<polygon points="652.9000000000001,259.9 659.8,263 652.9000000000001,266.1" fill="#1874CD"/>
<line x1="640.2" y1="291.6" x2="685" y2="291.6" stroke="#555" stroke-width="1"/>
<rect x="650.20" y="287.30" width="30.70" height="8.00" fill="#fff" stroke="#C8651B" stroke-width="0.9"/>
<text x="665.5500000000001" y="294.0" font-size="7.3" text-anchor="middle" fill="#1a1a1a" textLength="25.2" lengthAdjust="spacingAndGlyphs" stroke="#1a1a1a" stroke-width="0.15">chr. 3D</text>
<path d="M650.2 287.3 V282.8 H652.9000000000001" fill="none" stroke="#C8651B" stroke-width="0.9"/>
<polygon points="652.9000000000001,279.7 659.8,282.8 652.9000000000001,285.90000000000003" fill="#C8651B"/>
<path d="M622.7 268.8 C622.9 262 626.5 259.3 632.2 259.9" fill="none" stroke="#1874CD" stroke-width="0.9" stroke-dasharray="1.2 0.9"/>
<polygon points="633.6,257.1 638.7,262.2 631.4,262.9" fill="#1874CD"/>
<path d="M624.6 273.6 L641.2 283.6" fill="none" stroke="#4169E1" stroke-width="0.9" stroke-dasharray="1.2 0.9"/>
<polygon points="642.7,281.2 646.7,287.1 639.6,286.5" fill="#4169E1"/>
<circle cx="622.6" cy="271.6" r="2.85" fill="#FF0000"/>
<text x="591.87" y="264.30" font-size="7.6" fill="#000" textLength="29.51" lengthAdjust="spacingAndGlyphs" stroke="#000" stroke-width="0.18"><tspan font-style="italic">cis</tspan>-eQTL</text>
<text x="596.66" y="287.70" font-size="7.6" fill="#000" textLength="38.63" lengthAdjust="spacingAndGlyphs" stroke="#000" stroke-width="0.18"><tspan font-style="italic">trans</tspan>-eQTL</text>
</svg>
</body></html>
